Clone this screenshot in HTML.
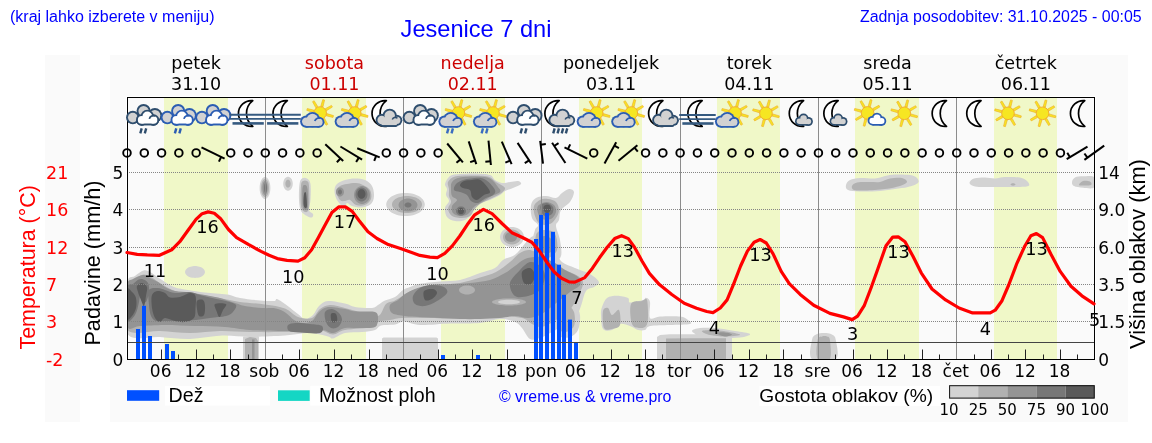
<!DOCTYPE html>
<html><head><meta charset="utf-8"><title>Jesenice 7 dni</title>
<style>html,body{margin:0;padding:0;background:#fff;}svg{display:block;}</style></head>
<body><svg width="1152" height="443" viewBox="0 0 1152 443">
<defs><clipPath id="plotclip"><rect x="127.0" y="97" width="968.0" height="262"/></clipPath></defs>
<rect x="45" y="55" width="35" height="367" fill="#fafafa"/>
<rect x="110" y="55" width="1018" height="367" fill="#fafafa"/>
<text x="10" y="21.6" font-family="'Liberation Sans', sans-serif" font-size="16" fill="#0000ff">(kraj lahko izberete v meniju)</text>
<text x="400.6" y="37" font-family="'Liberation Sans', sans-serif" font-size="23.6" fill="#0000ff">Jesenice 7 dni</text>
<text x="1141.7" y="22" text-anchor="end" font-family="'Liberation Sans', sans-serif" font-size="15.95" fill="#0000ff">Zadnja posodobitev: 31.10.2025 - 00:05</text>
<text x="196.14" y="69.2" text-anchor="middle" font-family="'DejaVu Sans', 'Liberation Sans', sans-serif" font-size="17.5" fill="#000">petek</text>
<text x="196.14" y="90" text-anchor="middle" font-family="'DejaVu Sans', 'Liberation Sans', sans-serif" font-size="17.5" fill="#000">31.10</text>
<text x="334.43" y="69.2" text-anchor="middle" font-family="'DejaVu Sans', 'Liberation Sans', sans-serif" font-size="17.5" fill="#cc0000">sobota</text>
<text x="334.43" y="90" text-anchor="middle" font-family="'DejaVu Sans', 'Liberation Sans', sans-serif" font-size="17.5" fill="#cc0000">01.11</text>
<text x="472.71" y="69.2" text-anchor="middle" font-family="'DejaVu Sans', 'Liberation Sans', sans-serif" font-size="17.5" fill="#cc0000">nedelja</text>
<text x="472.71" y="90" text-anchor="middle" font-family="'DejaVu Sans', 'Liberation Sans', sans-serif" font-size="17.5" fill="#cc0000">02.11</text>
<text x="611" y="69.2" text-anchor="middle" font-family="'DejaVu Sans', 'Liberation Sans', sans-serif" font-size="17.5" fill="#000">ponedeljek</text>
<text x="611" y="90" text-anchor="middle" font-family="'DejaVu Sans', 'Liberation Sans', sans-serif" font-size="17.5" fill="#000">03.11</text>
<text x="749.29" y="69.2" text-anchor="middle" font-family="'DejaVu Sans', 'Liberation Sans', sans-serif" font-size="17.5" fill="#000">torek</text>
<text x="749.29" y="90" text-anchor="middle" font-family="'DejaVu Sans', 'Liberation Sans', sans-serif" font-size="17.5" fill="#000">04.11</text>
<text x="887.57" y="69.2" text-anchor="middle" font-family="'DejaVu Sans', 'Liberation Sans', sans-serif" font-size="17.5" fill="#000">sreda</text>
<text x="887.57" y="90" text-anchor="middle" font-family="'DejaVu Sans', 'Liberation Sans', sans-serif" font-size="17.5" fill="#000">05.11</text>
<text x="1025.86" y="69.2" text-anchor="middle" font-family="'DejaVu Sans', 'Liberation Sans', sans-serif" font-size="17.5" fill="#000">četrtek</text>
<text x="1025.86" y="90" text-anchor="middle" font-family="'DejaVu Sans', 'Liberation Sans', sans-serif" font-size="17.5" fill="#000">06.11</text>
<rect x="127.0" y="97" width="968.0" height="262" fill="#fafafa"/>
<rect x="164" y="97" width="64" height="262" fill="#f0f8c8"/>
<rect x="302" y="97" width="64" height="262" fill="#f0f8c8"/>
<rect x="441" y="97" width="64" height="262" fill="#f0f8c8"/>
<rect x="579" y="97" width="63" height="262" fill="#f0f8c8"/>
<rect x="717" y="97" width="63" height="262" fill="#f0f8c8"/>
<rect x="855" y="97" width="64" height="262" fill="#f0f8c8"/>
<rect x="994" y="97" width="63" height="262" fill="#f0f8c8"/>
<g clip-path="url(#plotclip)">
<path d="M127,284C128.33,274.42 132.23,278.27 135,276C137.77,273.73 141.1,271.07 143.6,270.4C146.1,269.73 147.27,270.62 150,272C152.73,273.38 156,276.2 160,278.7C164,281.2 169.33,285.12 174,287C178.67,288.88 182.83,289.08 188,290C193.17,290.92 198.5,291.75 205,292.5C211.5,293.25 221.17,293.58 227,294.5C232.83,295.42 234.5,297 240,298C245.5,299 254.33,300 260,300.5C265.67,301 271.17,301.25 274,301C276.83,300.75 275.17,298.5 277,299C278.83,299.5 281.5,301.5 285,304C288.5,306.5 294.67,311.5 298,314C301.33,316.5 302.5,318.83 305,319C307.5,319.17 310.67,317.17 313,315C315.33,312.83 316.5,308.33 319,306C321.5,303.67 323.67,301.4 328,301C332.33,300.6 340.5,302.6 345,303.6C349.5,304.6 350.5,306.27 355,307C359.5,307.73 368.17,308.33 372,308C375.83,307.67 375.83,306.25 378,305C380.17,303.75 382.17,301.83 385,300.5C387.83,299.17 392,298.75 395,297C398,295.25 400.5,291.67 403,290C405.5,288.33 407.17,288.03 410,287C412.83,285.97 415,284.72 420,283.8C425,282.88 433.33,282.13 440,281.5C446.67,280.87 453.33,281.42 460,280C466.67,278.58 474.17,275 480,273C485.83,271 491.17,270.17 495,268C498.83,265.83 499.67,262.22 503,260C506.33,257.78 511.67,257.03 515,254.7C518.33,252.37 520.5,248.78 523,246C525.5,243.22 527.5,239.83 530,238C532.5,236.17 535,234.67 538,235C541,235.33 545,237.17 548,240C551,242.83 553.67,248.33 556,252C558.33,255.67 558.83,259.33 562,262C565.17,264.67 570.33,266 575,268C579.67,270 586,271.67 590,274C594,276.33 598.33,279.83 599,282C599.67,284.17 596.17,285.5 594,287C591.83,288.5 588.17,287.83 586,291C583.83,294.17 582.67,301.83 581,306C579.33,310.17 578.67,313 576,316C573.33,319 569,321.33 565,324C561,326.67 556.17,329.67 552,332C547.83,334.33 543.67,336.83 540,338C536.33,339.17 533,340.67 530,339C527,337.33 524.5,330.83 522,328C519.5,325.17 518.67,323.5 515,322C511.33,320.5 505.83,318.83 500,319C494.17,319.17 488.33,322.25 480,323C471.67,323.75 460,323.17 450,323.5C440,323.83 427.67,325.33 420,325C412.33,324.67 408.17,321.58 404,321.5C399.83,321.42 398.83,323.83 395,324.5C391.17,325.17 384.33,324.58 381,325.5C377.67,326.42 378.17,328.92 375,330C371.83,331.08 367,331.5 362,332C357,332.5 349.83,331.92 345,333C340.17,334.08 335.83,337.92 333,338.5C330.17,339.08 331.83,337.42 328,336.5C324.17,335.58 317.17,333.17 310,333C302.83,332.83 295,334.87 285,335.5C275,336.13 260.5,336.78 250,336.8C239.5,336.82 232,335.23 222,335.6C212,335.97 200.33,338.77 190,339C179.67,339.23 170.5,337.92 160,337C149.5,336.08 132.5,342.33 127,333.5C121.5,324.67 125.67,293.58 127,284Z M243,359 L243,337 L247,333 L255,333 L259,337 L259,359Z M382,359 L382,338.5 L383.5,337.5 L436.5,337.5 L438,338.5 L438,359Z M657,337 L660,335 L670,334.2 L700,334.2 L728,334.2 L732,336 L732,359 L657,359Z M811.9,359C807.93,355.83 811.32,344.08 812,340C812.68,335.92 814,335.67 816,334.5C818,333.33 821.33,333 824,333C826.67,333 830.03,333.33 832,334.5C833.97,335.67 835.17,335.92 835.8,340C836.43,344.08 839.78,355.83 835.8,359C831.82,362.17 815.87,362.17 811.9,359Z M602,307C603,304.17 604.5,299.87 607,298C609.5,296.13 613.5,295.8 617,295.8C620.5,295.8 625.83,296.88 628,298C630.17,299.12 627.5,302.17 630,302.5C632.5,302.83 640.33,300.78 643,300C645.67,299.22 644.83,297.47 646,297.8C647.17,298.13 649.33,298.63 650,302C650.67,305.37 648.33,315.58 650,318C651.67,320.42 655,316.75 660,316.5C665,316.25 675.33,315.92 680,316.5C684.67,317.08 686.33,318.75 688,320C689.67,321.25 693,323.17 690,324C687,324.83 676.67,324.67 670,325C663.33,325.33 654.17,325.17 650,326C645.83,326.83 647,329.33 645,330C643,330.67 640.5,330.67 638,330C635.5,329.33 633,327 630,326C627,325 623,323.33 620,324C617,324.67 614.83,329.17 612,330C609.17,330.83 604.83,331.5 603,329C601.17,326.5 601.17,318.67 601,315C600.83,311.33 601,309.83 602,307Z M692,331C692,329.67 696.17,328.5 700,328C703.83,327.5 709.17,327.5 715,328C720.83,328.5 729.17,330 735,331C740.83,332 749.17,332.92 750,334C750.83,335.08 745.83,336.83 740,337.5C734.17,338.17 721.67,338.25 715,338C708.33,337.75 703.83,337.17 700,336C696.17,334.83 692,332.33 692,331Z M531,205C531.67,201.67 533.5,199.5 536,198C538.5,196.5 542.67,196 546,196C549.33,196 553.33,198.5 556,198C558.67,197.5 559.83,194.5 562,193C564.17,191.5 567,189.17 569,189C571,188.83 573.83,189.83 574,192C574.17,194.17 572.17,199 570,202C567.83,205 562.83,207 561,210C559.17,213 559.83,217.33 559,220C558.17,222.67 555.83,222.67 556,226C556.17,229.33 559.17,235 560,240C560.83,245 562.17,252.33 561,256C559.83,259.67 557.33,261 553,262C548.67,263 538.5,264.83 535,262C531.5,259.17 532,250.33 532,245C532,239.67 534,233.33 535,230C536,226.67 538.5,227 538,225C537.5,223 533.17,221.33 532,218C530.83,214.67 530.33,208.33 531,205Z M445,184C445.5,181.83 447.5,177.67 450,176C452.5,174.33 455.83,174.42 460,174C464.17,173.58 470,173.33 475,173.5C480,173.67 486.67,173.92 490,175C493.33,176.08 493,178.67 495,180C497,181.33 499.5,182.67 502,183C504.5,183.33 507.33,182.33 510,182C512.67,181.67 516.17,180.67 518,181C519.83,181.33 521.83,182.83 521,184C520.17,185.17 515.67,186.83 513,188C510.33,189.17 507.17,189.83 505,191C502.83,192.17 502.5,193.5 500,195C497.5,196.5 493.33,198.67 490,200C486.67,201.33 482.5,201.83 480,203C477.5,204.17 476.33,205.17 475,207C473.67,208.83 473.67,211.83 472,214C470.33,216.17 467.83,218.83 465,220C462.17,221.17 458,221.5 455,221C452,220.5 448.67,219.17 447,217C445.33,214.83 444.67,210.67 445,208C445.33,205.33 448.83,203.17 449,201C449.17,198.83 446.33,197 446,195C445.67,193 447.17,190.83 447,189C446.83,187.17 444.5,186.17 445,184Z M524,237C524,238.45 523.56,240.04 522.81,241.34C522.06,242.64 520.84,243.92 519.48,244.82C518.12,245.72 516.36,246.43 514.67,246.75C512.98,247.07 511.02,247.07 509.33,246.75C507.64,246.43 505.88,245.72 504.52,244.82C503.16,243.92 501.94,242.64 501.19,241.34C500.44,240.04 500,238.45 500,237C500,235.55 500.44,233.96 501.19,232.66C501.94,231.36 503.16,230.08 504.52,229.18C505.88,228.28 507.64,227.57 509.33,227.25C511.02,226.93 512.98,226.93 514.67,227.25C516.36,227.57 518.12,228.28 519.48,229.18C520.84,230.08 522.06,231.36 522.81,232.66C523.56,233.96 524,235.55 524,237Z M270.4,188C270.4,189.59 270.2,191.34 269.87,192.77C269.53,194.21 268.98,195.61 268.37,196.6C267.76,197.59 266.96,198.37 266.2,198.72C265.44,199.08 264.56,199.08 263.8,198.72C263.04,198.37 262.24,197.59 261.63,196.6C261.02,195.61 260.47,194.21 260.13,192.77C259.8,191.34 259.6,189.59 259.6,188C259.6,186.41 259.8,184.66 260.13,183.23C260.47,181.79 261.02,180.39 261.63,179.4C262.24,178.41 263.04,177.63 263.8,177.28C264.56,176.92 265.44,176.92 266.2,177.28C266.96,177.63 267.76,178.41 268.37,179.4C268.98,180.39 269.53,181.79 269.87,183.23C270.2,184.66 270.4,186.41 270.4,188Z M292.8,183.7C292.8,184.71 292.63,185.83 292.32,186.74C292.02,187.65 291.54,188.54 290.99,189.17C290.45,189.8 289.74,190.3 289.07,190.52C288.39,190.75 287.61,190.75 286.93,190.52C286.26,190.3 285.55,189.8 285.01,189.17C284.46,188.54 283.98,187.65 283.68,186.74C283.37,185.83 283.2,184.71 283.2,183.7C283.2,182.69 283.37,181.57 283.68,180.66C283.98,179.75 284.46,178.86 285.01,178.23C285.55,177.6 286.26,177.1 286.93,176.88C287.61,176.65 288.39,176.65 289.07,176.88C289.74,177.1 290.45,177.6 290.99,178.23C291.54,178.86 292.02,179.75 292.32,180.66C292.63,181.57 292.8,182.69 292.8,183.7Z M299.5,184C300,180.42 300.75,179.42 302,178.5C303.25,177.58 305.58,177.58 307,178.5C308.42,179.42 309.92,180.42 310.5,184C311.08,187.58 310.75,195.67 310.5,200C310.25,204.33 308.58,207.67 309,210C309.42,212.33 312.5,212.75 313,214C313.5,215.25 313,217.17 312,217.5C311,217.83 308.83,217.08 307,216C305.17,214.92 302.33,213.67 301,211C299.67,208.33 299.25,204.5 299,200C298.75,195.5 299,187.58 299.5,184Z M334.5,190C334.67,187.67 335.25,185.67 337,184C338.75,182.33 342,180.92 345,180C348,179.08 351.67,178.5 355,178.5C358.33,178.5 362.17,178.75 365,180C367.83,181.25 370.5,183.33 372,186C373.5,188.67 374.17,193 374,196C373.83,199 373,202.08 371,204C369,205.92 365.17,207.17 362,207.5C358.83,207.83 354.5,206.75 352,206C349.5,205.25 348.33,202.67 347,203C345.67,203.33 345.17,207.83 344,208C342.83,208.17 341.33,205.67 340,204C338.67,202.33 336.92,200.33 336,198C335.08,195.67 334.33,192.33 334.5,190Z M424.8,204.5C424.8,206.18 424.1,208.02 422.89,209.53C421.68,211.04 419.72,212.52 417.53,213.57C415.35,214.62 412.52,215.44 409.79,215.81C407.07,216.18 403.93,216.18 401.21,215.81C398.48,215.44 395.65,214.62 393.47,213.57C391.28,212.52 389.32,211.04 388.11,209.53C386.9,208.02 386.2,206.18 386.2,204.5C386.2,202.82 386.9,200.98 388.11,199.47C389.32,197.96 391.28,196.48 393.47,195.43C395.65,194.38 398.48,193.56 401.21,193.19C403.93,192.82 407.07,192.82 409.79,193.19C412.52,193.56 415.35,194.38 417.53,195.43C419.72,196.48 421.68,197.96 422.89,199.47C424.1,200.98 424.8,202.82 424.8,204.5Z M846,185C846.33,183.33 847.67,181.17 850,180C852.33,178.83 855.83,178.25 860,178C864.17,177.75 870.83,178.83 875,178.5C879.17,178.17 881.67,176.67 885,176C888.33,175.33 890.83,174.67 895,174.5C899.17,174.33 906.33,174.42 910,175C913.67,175.58 915.67,176.67 917,178C918.33,179.33 919.5,181.5 918,183C916.5,184.5 911.83,186 908,187C904.17,188 899.67,188.33 895,189C890.33,189.67 885.83,190.58 880,191C874.17,191.42 865.33,191.67 860,191.5C854.67,191.33 850.33,191.08 848,190C845.67,188.92 845.67,186.67 846,185Z M969.5,183C969.33,181.67 971.42,179.42 974,178.5C976.58,177.58 981.5,177.5 985,177.5C988.5,177.5 991.67,178.58 995,178.5C998.33,178.42 1000.83,177.17 1005,177C1009.17,176.83 1016.33,176.83 1020,177.5C1023.67,178.17 1025.58,179.58 1027,181C1028.42,182.42 1030.5,185 1028.5,186C1026.5,187 1021.42,186.83 1015,187C1008.58,187.17 996.67,187.08 990,187C983.33,186.92 978.42,187.17 975,186.5C971.58,185.83 969.67,184.33 969.5,183Z M1072,182C1072.17,180.58 1073.17,178.45 1075,177.5C1076.83,176.55 1079.83,176.38 1083,176.3C1086.17,176.22 1092.17,175.13 1094,177C1095.83,178.87 1095.83,185.72 1094,187.5C1092.17,189.28 1086.33,187.95 1083,187.7C1079.67,187.45 1075.83,186.95 1074,186C1072.17,185.05 1071.83,183.42 1072,182Z M205,272C205,272.87 204.64,273.82 204.01,274.6C203.38,275.39 202.37,276.15 201.23,276.69C200.1,277.23 198.64,277.66 197.23,277.85C195.82,278.04 194.18,278.04 192.77,277.85C191.36,277.66 189.9,277.23 188.77,276.69C187.63,276.15 186.62,275.39 185.99,274.6C185.36,273.82 185,272.87 185,272C185,271.13 185.36,270.18 185.99,269.4C186.62,268.61 187.63,267.85 188.77,267.31C189.9,266.77 191.36,266.34 192.77,266.15C194.18,265.96 195.82,265.96 197.23,266.15C198.64,266.34 200.1,266.77 201.23,267.31C202.37,267.85 203.38,268.61 204.01,269.4C204.64,270.18 205,271.13 205,272Z M558,296C559.67,292.33 563.17,296.5 566,298C568.83,299.5 572.67,302.17 575,305C577.33,307.83 579.5,310.83 580,315C580.5,319.17 579.67,326.33 578,330C576.33,333.67 573,336 570,337C567,338 562.33,338.83 560,336C557.67,333.17 556.33,326.67 556,320C555.67,313.33 556.33,299.67 558,296Z" fill="#d3d3d3"/>
<path d="M127,287C128.5,278.58 133.23,281.08 136,279C138.77,276.92 140.93,274.75 143.6,274.5C146.27,274.25 149.27,276.08 152,277.5C154.73,278.92 156.17,280.75 160,283C163.83,285.25 170,289.25 175,291C180,292.75 185,292.75 190,293.5C195,294.25 200,294.75 205,295.5C210,296.25 214.17,296.92 220,298C225.83,299.08 232.5,300.92 240,302C247.5,303.08 257.5,303.42 265,304.5C272.5,305.58 279.5,306.42 285,308.5C290.5,310.58 293.5,315.42 298,317C302.5,318.58 308.33,319.33 312,318C315.67,316.67 317,311.17 320,309C323,306.83 325.83,305.17 330,305C334.17,304.83 340,306.83 345,308C350,309.17 354.5,310.67 360,312C365.5,313.33 373.67,317.33 378,316C382.33,314.67 383.17,306.58 386,304C388.83,301.42 391,302.58 395,300.5C399,298.42 406.17,293.42 410,291.5C413.83,289.58 413,290.08 418,289C423,287.92 433,286 440,285C447,284 453.33,284.25 460,283C466.67,281.75 474,279.33 480,277.5C486,275.67 491,274.58 496,272C501,269.42 506,265.17 510,262C514,258.83 516.67,255 520,253C523.33,251 526.67,249.67 530,250C533.33,250.33 536.33,253 540,255C543.67,257 547.83,259.5 552,262C556.17,264.5 560.67,267.67 565,270C569.33,272.33 575,273.67 578,276C581,278.33 583.33,280 583,284C582.67,288 578.5,295.33 576,300C573.5,304.67 571.33,308.67 568,312C564.67,315.33 560.33,317.5 556,320C551.67,322.5 546,326.33 542,327C538,327.67 535.33,325.5 532,324C528.67,322.5 527.33,319.33 522,318C516.67,316.67 507,315.92 500,316C493,316.08 488.33,318.08 480,318.5C471.67,318.92 460,318.58 450,318.5C440,318.42 428,318.08 420,318C412,317.92 407,317.67 402,318C397,318.33 394,319.33 390,320C386,320.67 380.67,320.83 378,322C375.33,323.17 379.5,325.67 374,327C368.5,328.33 351.83,328.75 345,330C338.17,331.25 337.17,334.5 333,334.5C328.83,334.5 325.5,330.58 320,330C314.5,329.42 305.83,330.67 300,331C294.17,331.33 293.33,331.83 285,332C276.67,332.17 260.83,332.17 250,332C239.17,331.83 230,330.83 220,331C210,331.17 200,333 190,333C180,333 170.5,331.58 160,331C149.5,330.42 132.5,336.83 127,329.5C121.5,322.17 125.5,295.42 127,287Z M245,359 L245,339 L250,337 L256,338 L258,341 L258,359Z M666,338.5 L690,338.3 L726,338.3 L726,359 L666,359Z M817.6,359C815.55,355.83 816.87,343.75 817.6,340C818.33,336.25 820.43,337.08 822,336.5C823.57,335.92 825.68,335.92 827,336.5C828.32,337.08 829.42,336.25 829.9,340C830.38,343.75 831.95,355.83 829.9,359C827.85,362.17 819.65,362.17 817.6,359Z M603,311C603.67,307.67 606.5,307.33 608,308C609.5,308.67 610.17,314.67 612,315C613.83,315.33 617.67,308.33 619,310C620.33,311.67 621.17,321.83 620,325C618.83,328.17 614.67,328.5 612,329C609.33,329.5 605.5,331 604,328C602.5,325 602.33,314.33 603,311Z M631,304C632.67,300.17 639.33,301.67 642,301C644.67,300.33 646,297.17 647,300C648,302.83 648.17,313.67 648,318C647.83,322.33 647.33,324.33 646,326C644.67,327.67 642.33,328.33 640,328C637.67,327.67 633.5,328 632,324C630.5,320 629.33,307.83 631,304Z M702,331C702.83,330.17 710,329.75 715,330C720,330.25 727.83,331.67 732,332.5C736.17,333.33 741.17,334.33 740,335C738.83,335.67 730,336.5 725,336.5C720,336.5 713.83,335.92 710,335C706.17,334.08 701.17,331.83 702,331Z M534,206C534.83,203.33 537.67,201.17 540,200C542.33,198.83 545.33,198.67 548,199C550.67,199.33 554.17,200.17 556,202C557.83,203.83 559,207.33 559,210C559,212.67 557.5,215.67 556,218C554.5,220.33 552.67,223 550,224C547.33,225 542.5,225.33 540,224C537.5,222.67 536,219 535,216C534,213 533.17,208.67 534,206Z M536,235C537.33,230.67 541.83,230.17 545,230C548.17,229.83 553,230.67 555,234C557,237.33 558.17,246 557,250C555.83,254 551.33,257 548,258C544.67,259 539,259.83 537,256C535,252.17 534.67,239.33 536,235Z M448,182C449,179.92 451.33,177.58 455,176.5C458.67,175.42 464.5,175.5 470,175.5C475.5,175.5 483.67,175.42 488,176.5C492.33,177.58 493.17,180.08 496,182C498.83,183.92 504.33,186 505,188C505.67,190 502.5,192.17 500,194C497.5,195.83 493.33,197.33 490,199C486.67,200.67 482.67,202.17 480,204C477.33,205.83 475.67,208 474,210C472.33,212 472,214.67 470,216C468,217.33 465,218 462,218C459,218 454.33,217.5 452,216C449.67,214.5 448.17,211.33 448,209C447.83,206.67 450.83,204.17 451,202C451.17,199.83 449.33,198.17 449,196C448.67,193.83 449.17,191.33 449,189C448.83,186.67 447,184.08 448,182Z M521,237C521,238.08 520.67,239.28 520.11,240.25C519.54,241.23 518.63,242.19 517.61,242.86C516.59,243.54 515.27,244.07 514,244.31C512.73,244.55 511.27,244.55 510,244.31C508.73,244.07 507.41,243.54 506.39,242.86C505.37,242.19 504.46,241.23 503.89,240.25C503.33,239.28 503,238.08 503,237C503,235.92 503.33,234.72 503.89,233.75C504.46,232.77 505.37,231.81 506.39,231.14C507.41,230.46 508.73,229.93 510,229.69C511.27,229.45 512.73,229.45 514,229.69C515.27,229.93 516.59,230.46 517.61,231.14C518.63,231.81 519.54,232.77 520.11,233.75C520.67,234.72 521,235.92 521,237Z M269,188C269,189.3 268.85,190.73 268.6,191.9C268.35,193.08 267.95,194.22 267.49,195.04C267.04,195.85 266.45,196.48 265.89,196.77C265.33,197.06 264.67,197.06 264.11,196.77C263.55,196.48 262.96,195.85 262.51,195.04C262.05,194.22 261.65,193.08 261.4,191.9C261.15,190.73 261,189.3 261,188C261,186.7 261.15,185.27 261.4,184.1C261.65,182.92 262.05,181.78 262.51,180.96C262.96,180.15 263.55,179.52 264.11,179.23C264.67,178.94 265.33,178.94 265.89,179.23C266.45,179.52 267.04,180.15 267.49,180.96C267.95,181.78 268.35,182.92 268.6,184.1C268.85,185.27 269,186.7 269,188Z M290.6,183.7C290.6,184.28 290.51,184.91 290.34,185.44C290.18,185.96 289.92,186.47 289.62,186.83C289.33,187.19 288.95,187.47 288.58,187.6C288.21,187.73 287.79,187.73 287.42,187.6C287.05,187.47 286.67,187.19 286.38,186.83C286.08,186.47 285.82,185.96 285.66,185.44C285.49,184.91 285.4,184.28 285.4,183.7C285.4,183.12 285.49,182.49 285.66,181.96C285.82,181.44 286.08,180.93 286.38,180.57C286.67,180.21 287.05,179.93 287.42,179.8C287.79,179.67 288.21,179.67 288.58,179.8C288.95,179.93 289.33,180.21 289.62,180.57C289.92,180.93 290.18,181.44 290.34,181.96C290.51,182.49 290.6,183.12 290.6,183.7Z M301,186C301.33,181.83 302,181.83 303,181C304,180.17 306,180.17 307,181C308,181.83 308.67,181.5 309,186C309.33,190.5 309.67,203.67 309,208C308.33,212.33 306.33,212.33 305,212C303.67,211.67 301.67,210.33 301,206C300.33,201.67 300.67,190.17 301,186Z M336,191C336,188.67 338.17,187.17 340,186C341.83,184.83 344.33,184.5 347,184C349.67,183.5 353.33,182.83 356,183C358.67,183.17 360.67,183.83 363,185C365.33,186.17 368.67,187.67 370,190C371.33,192.33 371.83,196.5 371,199C370.17,201.5 367.5,204 365,205C362.5,206 358.5,205.83 356,205C353.5,204.17 351.83,200.67 350,200C348.17,199.33 346.67,201 345,201C343.33,201 341.5,201.67 340,200C338.5,198.33 336,193.33 336,191Z M422,204.5C422,205.73 421.46,207.08 420.51,208.19C419.57,209.3 418.05,210.38 416.35,211.15C414.66,211.91 412.45,212.51 410.34,212.79C408.22,213.06 405.78,213.06 403.66,212.79C401.55,212.51 399.34,211.91 397.65,211.15C395.95,210.38 394.43,209.3 393.49,208.19C392.54,207.08 392,205.73 392,204.5C392,203.27 392.54,201.92 393.49,200.81C394.43,199.7 395.95,198.62 397.65,197.85C399.34,197.09 401.55,196.49 403.66,196.21C405.78,195.94 408.22,195.94 410.34,196.21C412.45,196.49 414.66,197.09 416.35,197.85C418.05,198.62 419.57,199.7 420.51,200.81C421.46,201.92 422,203.27 422,204.5Z M852,186C852.5,184.75 854,183.17 857,182.5C860,181.83 866.17,182.08 870,182C873.83,181.92 876.67,182.58 880,182C883.33,181.42 886.33,179.17 890,178.5C893.67,177.83 899.17,177.42 902,178C904.83,178.58 907.33,180.67 907,182C906.67,183.33 903.67,184.83 900,186C896.33,187.17 890.83,188.25 885,189C879.17,189.75 870.17,190.33 865,190.5C859.83,190.67 856.17,190.75 854,190C851.83,189.25 851.5,187.25 852,186Z M1015.5,184.5C1015.5,184.78 1015.18,185.15 1014.77,185.35C1014.35,185.55 1013.59,185.7 1013,185.7C1012.41,185.7 1011.65,185.55 1011.23,185.35C1010.82,185.15 1010.5,184.78 1010.5,184.5C1010.5,184.22 1010.82,183.85 1011.23,183.65C1011.65,183.45 1012.41,183.3 1013,183.3C1013.59,183.3 1014.35,183.45 1014.77,183.65C1015.18,183.85 1015.5,184.22 1015.5,184.5Z M1079,184.5C1079.17,183.75 1081.17,181.5 1083,181C1084.83,180.5 1088.67,180.83 1090,181.5C1091.33,182.17 1092.33,184.33 1091,185C1089.67,185.67 1084,185.58 1082,185.5C1080,185.42 1078.83,185.25 1079,184.5Z M560,302C561.17,298 564.67,302.33 567,304C569.33,305.67 572.83,308.33 574,312C575.17,315.67 575.33,322.67 574,326C572.67,329.33 568.33,331.67 566,332C563.67,332.33 561,333 560,328C559,323 558.83,306 560,302Z" fill="#b1b1b1"/>
<path d="M127,286C128,278.17 130.33,280.83 133,279C135.67,277.17 140.17,275.17 143,275C145.83,274.83 147.5,276.83 150,278C152.5,279.17 155.5,280.5 158,282C160.5,283.5 162.17,285.5 165,287C167.83,288.5 170.83,290.08 175,291C179.17,291.92 185,291.83 190,292.5C195,293.17 200,294.08 205,295C210,295.92 215.5,296.83 220,298C224.5,299.17 227.83,300.67 232,302C236.17,303.33 240,305 245,306C250,307 256.83,307.58 262,308C267.17,308.42 272,307.67 276,308.5C280,309.33 283,311.08 286,313C289,314.92 291.17,318.33 294,320C296.83,321.67 300,322.83 303,323C306,323.17 309.33,322.83 312,321C314.67,319.17 316.33,314.33 319,312C321.67,309.67 323.67,307.5 328,307C332.33,306.5 341,308.33 345,309C349,309.67 349.5,310.58 352,311C354.5,311.42 356.17,311.33 360,311.5C363.83,311.67 372,310.92 375,312C378,313.08 378,315.5 378,318C378,320.5 378,325.33 375,327C372,328.67 365,327.83 360,328C355,328.17 349.5,327.17 345,328C340.5,328.83 336.83,332.67 333,333C329.17,333.33 327.5,330.33 322,330C316.5,329.67 306.17,330.83 300,331C293.83,331.17 293.33,331.17 285,331C276.67,330.83 260,330.67 250,330C240,329.33 234.17,327.67 225,327C215.83,326.33 205,326.33 195,326C185,325.67 174.17,325 165,325C155.83,325 146.33,325.83 140,326C133.67,326.17 129.17,332.67 127,326C124.83,319.33 126,293.83 127,286Z M390,305C391,302.83 395.5,301.83 398,300C400.5,298.17 402.17,295.83 405,294C407.83,292.17 410.83,290.5 415,289C419.17,287.5 424.17,285.83 430,285C435.83,284.17 443.33,284.33 450,284C456.67,283.67 463.33,283.67 470,283C476.67,282.33 484.17,281.67 490,280C495.83,278.33 500.83,275.33 505,273C509.17,270.67 511.67,268.33 515,266C518.33,263.67 520.83,260.5 525,259C529.17,257.5 535,256.33 540,257C545,257.67 550.83,260.83 555,263C559.17,265.17 561.17,267.67 565,270C568.83,272.33 575.5,274.5 578,277C580.5,279.5 581.33,282.5 580,285C578.67,287.5 573.33,289.5 570,292C566.67,294.5 563.33,297.33 560,300C556.67,302.67 553.33,305.5 550,308C546.67,310.5 543.67,313.33 540,315C536.33,316.67 532.17,317.83 528,318C523.83,318.17 519.67,316 515,316C510.33,316 505.83,317.5 500,318C494.17,318.5 486.67,318.83 480,319C473.33,319.17 466.67,319.17 460,319C453.33,318.83 446.67,318.33 440,318C433.33,317.67 425.83,317.33 420,317C414.17,316.67 409.67,316.67 405,316C400.33,315.33 394.5,314.83 392,313C389.5,311.17 389,307.17 390,305Z M252,359 L252,339.5 L254.5,339.5 L254.5,359Z M716,333C716,332.33 722.33,332.25 725,332.5C727.67,332.75 732,333.83 732,334.5C732,335.17 727.67,336.75 725,336.5C722.33,336.25 716,333.67 716,333Z M538,206C539.33,204.17 543.33,202.17 546,202C548.67,201.83 552.33,203.33 554,205C555.67,206.67 556.5,209.67 556,212C555.5,214.33 553.33,217.83 551,219C548.67,220.17 544.17,220 542,219C539.83,218 538.67,215.17 538,213C537.33,210.83 536.67,207.83 538,206Z M538,240C538.67,237.33 543.5,235.67 546,236C548.5,236.33 552.17,239.33 553,242C553.83,244.67 552.83,250.33 551,252C549.17,253.67 544.17,254 542,252C539.83,250 537.33,242.67 538,240Z M452,182C453.5,180.08 455.67,178.42 460,177.5C464.33,176.58 473,176.33 478,176.5C483,176.67 486.67,176.75 490,178.5C493.33,180.25 496.33,184.75 498,187C499.67,189.25 501.33,190.33 500,192C498.67,193.67 493,195.33 490,197C487,198.67 484.67,200.33 482,202C479.33,203.67 476.33,205 474,207C471.67,209 470.33,212.5 468,214C465.67,215.5 462.5,216.17 460,216C457.5,215.83 454.33,214.67 453,213C451.67,211.33 451.33,208.17 452,206C452.67,203.83 457,201.67 457,200C457,198.33 453,197.83 452,196C451,194.17 451,191.33 451,189C451,186.67 450.5,183.92 452,182Z M517,237C517,237.72 516.78,238.52 516.41,239.17C516.03,239.82 515.42,240.46 514.74,240.91C514.06,241.36 513.18,241.71 512.34,241.87C511.49,242.04 510.51,242.04 509.66,241.87C508.82,241.71 507.94,241.36 507.26,240.91C506.58,240.46 505.97,239.82 505.59,239.17C505.22,238.52 505,237.72 505,237C505,236.28 505.22,235.48 505.59,234.83C505.97,234.18 506.58,233.54 507.26,233.09C507.94,232.64 508.82,232.29 509.66,232.13C510.51,231.96 511.49,231.96 512.34,232.13C513.18,232.29 514.06,232.64 514.74,233.09C515.42,233.54 516.03,234.18 516.41,234.83C516.78,235.48 517,236.28 517,237Z M267.6,188C267.6,189.01 267.51,190.13 267.34,191.04C267.18,191.95 266.92,192.84 266.62,193.47C266.33,194.1 265.95,194.6 265.58,194.82C265.21,195.05 264.79,195.05 264.42,194.82C264.05,194.6 263.67,194.1 263.38,193.47C263.08,192.84 262.82,191.95 262.66,191.04C262.49,190.13 262.4,189.01 262.4,188C262.4,186.99 262.49,185.87 262.66,184.96C262.82,184.05 263.08,183.16 263.38,182.53C263.67,181.9 264.05,181.4 264.42,181.18C264.79,180.95 265.21,180.95 265.58,181.18C265.95,181.4 266.33,181.9 266.62,182.53C266.92,183.16 267.18,184.05 267.34,184.96C267.51,185.87 267.6,186.99 267.6,188Z M302.5,188C302.92,184.67 304.17,184.83 305,185C305.83,185.17 307,185.33 307.5,189C308,192.67 308.42,203.5 308,207C307.58,210.5 305.92,210.33 305,210C304.08,209.67 302.92,208.67 302.5,205C302.08,201.33 302.08,191.33 302.5,188Z M344,192C344,192.65 343.85,193.37 343.6,193.95C343.35,194.54 342.95,195.11 342.49,195.52C342.04,195.92 341.45,196.24 340.89,196.39C340.33,196.53 339.67,196.53 339.11,196.39C338.55,196.24 337.96,195.92 337.51,195.52C337.05,195.11 336.65,194.54 336.4,193.95C336.15,193.37 336,192.65 336,192C336,191.35 336.15,190.63 336.4,190.05C336.65,189.46 337.05,188.89 337.51,188.48C337.96,188.08 338.55,187.76 339.11,187.61C339.67,187.47 340.33,187.47 340.89,187.61C341.45,187.76 342.04,188.08 342.49,188.48C342.95,188.89 343.35,189.46 343.6,190.05C343.85,190.63 344,191.35 344,192Z M370,195C370,196.3 369.71,197.73 369.21,198.9C368.71,200.08 367.89,201.22 366.99,202.04C366.08,202.85 364.91,203.48 363.78,203.77C362.65,204.06 361.35,204.06 360.22,203.77C359.09,203.48 357.92,202.85 357.01,202.04C356.11,201.22 355.29,200.08 354.79,198.9C354.29,197.73 354,196.3 354,195C354,193.7 354.29,192.27 354.79,191.1C355.29,189.92 356.11,188.78 357.01,187.96C357.92,187.15 359.09,186.52 360.22,186.23C361.35,185.94 362.65,185.94 363.78,186.23C364.91,186.52 366.08,187.15 366.99,187.96C367.89,188.78 368.71,189.92 369.21,191.1C369.71,192.27 370,193.7 370,195Z M417.5,205C417.5,205.94 417.16,206.97 416.56,207.82C415.96,208.67 415,209.5 413.92,210.08C412.85,210.67 411.45,211.13 410.11,211.34C408.77,211.55 407.23,211.55 405.89,211.34C404.55,211.13 403.15,210.67 402.08,210.08C401,209.5 400.04,208.67 399.44,207.82C398.84,206.97 398.5,205.94 398.5,205C398.5,204.06 398.84,203.03 399.44,202.18C400.04,201.33 401,200.5 402.08,199.92C403.15,199.33 404.55,198.87 405.89,198.66C407.23,198.45 408.77,198.45 410.11,198.66C411.45,198.87 412.85,199.33 413.92,199.92C415,200.5 415.96,201.33 416.56,202.18C417.16,203.03 417.5,204.06 417.5,205Z" fill="#949494"/>
<path d="M127,288C128,282 131.17,285.17 133,284C134.83,282.83 136.83,280 138,281C139.17,282 139.83,286.5 140,290C140.17,293.5 139.83,297.83 139,302C138.17,306.17 137,312 135,315C133,318 128.33,324.5 127,320C125.67,315.5 126,294 127,288Z M136,282C136.5,279.83 140,278.83 142,279C144,279.17 146.83,280.83 148,283C149.17,285.17 149.33,288.83 149,292C148.67,295.17 147.17,300.67 146,302C144.83,303.33 143.17,301.67 142,300C140.83,298.33 140,295 139,292C138,289 135.5,284.17 136,282Z M149,290C150.5,287.17 155.33,288 158,288C160.67,288 162.17,289.17 165,290C167.83,290.83 170.83,292.67 175,293C179.17,293.33 185.83,291.67 190,292C194.17,292.33 196.33,294 200,295C203.67,296 207.67,297 212,298C216.33,299 222,299.83 226,301C230,302.17 234.83,303.17 236,305C237.17,306.83 234.67,310.17 233,312C231.33,313.83 229.83,315 226,316C222.17,317 215,317.33 210,318C205,318.67 201,319.5 196,320C191,320.5 185.17,320.83 180,321C174.83,321.17 169,321 165,321C161,321 158.33,321.83 156,321C153.67,320.17 152.17,318.67 151,316C149.83,313.33 149.33,309.33 149,305C148.67,300.67 147.5,292.83 149,290Z M288,325C289.17,323.67 292.33,323.17 296,323C299.67,322.83 305.67,323.5 310,324C314.33,324.5 320.33,324.5 322,326C323.67,327.5 323.67,331.92 320,333C316.33,334.08 305.17,332.83 300,332.5C294.83,332.17 291,332.25 289,331C287,329.75 286.83,326.33 288,325Z M325,312C326,309.83 329.67,308.83 332,309C334.33,309.17 337.33,311.17 339,313C340.67,314.83 342.17,317.67 342,320C341.83,322.33 339.83,325.67 338,327C336.17,328.33 333,328.83 331,328C329,327.17 327,324.67 326,322C325,319.33 324,314.17 325,312Z M298,326C298.83,325 306.67,324.5 310,325C313.33,325.5 318.83,328 318,329C317.17,330 308.33,331.5 305,331C301.67,330.5 297.17,327 298,326Z M413,296C413.83,293.33 416.83,289.83 420,288C423.17,286.17 428,285.17 432,285C436,284.83 441.5,285.67 444,287C446.5,288.33 448.17,290.67 447,293C445.83,295.33 440.67,298.83 437,301C433.33,303.17 428.67,305.5 425,306C421.33,306.5 417,305.67 415,304C413,302.33 412.17,298.67 413,296Z M510,283C510.83,278.67 516.67,273.5 520,270C523.33,266.5 526.67,262.67 530,262C533.33,261.33 537.5,263.67 540,266C542.5,268.33 545,272 545,276C545,280 542.83,286.67 540,290C537.17,293.33 532.17,295 528,296C523.83,297 518,298.17 515,296C512,293.83 509.17,287.33 510,283Z M541,205C542,203.67 545,202.67 547,203C549,203.33 552.17,205.17 553,207C553.83,208.83 553.33,212.5 552,214C550.67,215.5 546.83,216.5 545,216C543.17,215.5 541.67,212.83 541,211C540.33,209.17 540,206.33 541,205Z M456,184C457.5,182.33 460.5,180.92 463,180C465.5,179.08 468,178.83 471,178.5C474,178.17 478.17,177.5 481,178C483.83,178.5 485.67,179.5 488,181.5C490.33,183.5 494.17,187.75 495,190C495.83,192.25 494.67,193.58 493,195C491.33,196.42 487.5,197.17 485,198.5C482.5,199.83 480.33,202.58 478,203C475.67,203.42 472.83,202.33 471,201C469.17,199.67 468.83,196.5 467,195C465.17,193.5 462.17,192.83 460,192C457.83,191.17 454.67,191.33 454,190C453.33,188.67 454.5,185.67 456,184Z M466,211C466,211.65 465.82,212.37 465.5,212.95C465.19,213.54 464.68,214.11 464.12,214.52C463.55,214.92 462.82,215.24 462.11,215.39C461.41,215.53 460.59,215.53 459.89,215.39C459.18,215.24 458.45,214.92 457.88,214.52C457.32,214.11 456.81,213.54 456.5,212.95C456.18,212.37 456,211.65 456,211C456,210.35 456.18,209.63 456.5,209.05C456.81,208.46 457.32,207.89 457.88,207.48C458.45,207.08 459.18,206.76 459.89,206.61C460.59,206.47 461.41,206.47 462.11,206.61C462.82,206.76 463.55,207.08 464.12,207.48C464.68,207.89 465.19,208.46 465.5,209.05C465.82,209.63 466,210.35 466,211Z M267,188C267,188.72 266.95,189.52 266.85,190.17C266.76,190.82 266.6,191.46 266.44,191.91C266.27,192.36 266.05,192.71 265.83,192.87C265.62,193.04 265.38,193.04 265.17,192.87C264.95,192.71 264.73,192.36 264.56,191.91C264.4,191.46 264.24,190.82 264.15,190.17C264.05,189.52 264,188.72 264,188C264,187.28 264.05,186.48 264.15,185.83C264.24,185.18 264.4,184.54 264.56,184.09C264.73,183.64 264.95,183.29 265.17,183.13C265.38,182.96 265.62,182.96 265.83,183.13C266.05,183.29 266.27,183.64 266.44,184.09C266.6,184.54 266.76,185.18 266.85,185.83C266.95,186.48 267,187.28 267,188Z M367.5,194.5C367.5,195.51 367.28,196.63 366.91,197.54C366.53,198.45 365.92,199.34 365.24,199.97C364.56,200.6 363.68,201.1 362.84,201.32C361.99,201.55 361.01,201.55 360.16,201.32C359.32,201.1 358.44,200.6 357.76,199.97C357.08,199.34 356.47,198.45 356.09,197.54C355.72,196.63 355.5,195.51 355.5,194.5C355.5,193.49 355.72,192.37 356.09,191.46C356.47,190.55 357.08,189.66 357.76,189.03C358.44,188.4 359.32,187.9 360.16,187.68C361.01,187.45 361.99,187.45 362.84,187.68C363.68,187.9 364.56,188.4 365.24,189.03C365.92,189.66 366.53,190.55 366.91,191.46C367.28,192.37 367.5,193.49 367.5,194.5Z M342,192C342,192.36 341.93,192.76 341.8,193.08C341.68,193.41 341.47,193.73 341.25,193.95C341.02,194.18 340.73,194.36 340.45,194.44C340.16,194.52 339.84,194.52 339.55,194.44C339.27,194.36 338.98,194.18 338.75,193.95C338.53,193.73 338.32,193.41 338.2,193.08C338.07,192.76 338,192.36 338,192C338,191.64 338.07,191.24 338.2,190.92C338.32,190.59 338.53,190.27 338.75,190.05C338.98,189.82 339.27,189.64 339.55,189.56C339.84,189.48 340.16,189.48 340.45,189.56C340.73,189.64 341.02,189.82 341.25,190.05C341.47,190.27 341.68,190.59 341.8,190.92C341.93,191.24 342,191.64 342,192Z M411.5,205C411.5,205.36 411.37,205.76 411.15,206.08C410.93,206.41 410.58,206.73 410.18,206.95C409.79,207.18 409.27,207.36 408.78,207.44C408.29,207.52 407.71,207.52 407.22,207.44C406.73,207.36 406.21,207.18 405.82,206.95C405.42,206.73 405.07,206.41 404.85,206.08C404.63,205.76 404.5,205.36 404.5,205C404.5,204.64 404.63,204.24 404.85,203.92C405.07,203.59 405.42,203.27 405.82,203.05C406.21,202.82 406.73,202.64 407.22,202.56C407.71,202.48 408.29,202.48 408.78,202.56C409.27,202.64 409.79,202.82 410.18,203.05C410.58,203.27 410.93,203.59 411.15,203.92C411.37,204.24 411.5,204.64 411.5,205Z" fill="#777777"/>
<path d="M127,290C127.83,285.67 130.5,290.67 132,292C133.5,293.33 135.33,295.33 136,298C136.67,300.67 136.67,305 136,308C135.33,311 133.5,314.33 132,316C130.5,317.67 127.83,322.33 127,318C126.17,313.67 126.17,294.33 127,290Z M137,286C137.67,284.5 140.33,282.83 142,283C143.67,283.17 146.33,284.83 147,287C147.67,289.17 146.5,292.83 146,296C145.5,299.17 144.83,305.33 144,306C143.17,306.67 142,302.33 141,300C140,297.67 138.67,294.33 138,292C137.33,289.67 136.33,287.5 137,286Z M152,295C153,292.17 155.83,291.33 158,291C160.17,290.67 163,291.92 165,293C167,294.08 167.5,296.83 170,297.5C172.5,298.17 176.67,297.75 180,297C183.33,296.25 187.42,293.17 190,293C192.58,292.83 194.58,293.5 195.5,296C196.42,298.5 195.75,304.33 195.5,308C195.25,311.67 195.75,315.67 194,318C192.25,320.33 188.17,321.5 185,322C181.83,322.5 178.33,321.67 175,321C171.67,320.33 167.5,317.83 165,318C162.5,318.17 161.67,322 160,322C158.33,322 156.33,320.33 155,318C153.67,315.67 152.5,311.83 152,308C151.5,304.17 151,297.83 152,295Z M197,301C198,299.5 201.67,299.17 203,300C204.33,300.83 204.83,303.5 205,306C205.17,308.5 205,313.33 204,315C203,316.67 200.17,317 199,316C197.83,315 197.33,311.5 197,309C196.67,306.5 196,302.5 197,301Z M215,304C216.58,302.83 224.67,303 226,304C227.33,305 224.08,307.83 223,310C221.92,312.17 220.58,316.83 219.5,317C218.42,317.17 217.25,313.17 216.5,311C215.75,308.83 213.42,305.17 215,304Z M331,314C331.67,312.67 335,312.83 336,314C337,315.17 337.67,319.67 337,321C336.33,322.33 333,323.17 332,322C331,320.83 330.33,315.33 331,314Z M424,291C425.33,289.17 430.83,288.67 433,289C435.17,289.33 437.17,291.33 437,293C436.83,294.67 434,297.83 432,299C430,300.17 426.33,301.33 425,300C423.67,298.67 422.67,292.83 424,291Z M522,272C523,269.5 527.83,267.5 530,268C532.17,268.5 534.83,272.33 535,275C535.17,277.67 532.83,282.67 531,284C529.17,285.33 525.5,285 524,283C522.5,281 521,274.5 522,272Z M544,206C544.83,205 547.83,204.5 549,205C550.17,205.5 551.17,207.67 551,209C550.83,210.33 549.17,212.67 548,213C546.83,213.33 544.67,212.17 544,211C543.33,209.83 543.17,207 544,206Z M464,181C466,180.17 469.5,180.25 472,180C474.5,179.75 477,179 479,179.5C481,180 482.17,180.92 484,183C485.83,185.08 490,190 490,192C490,194 486.17,193.67 484,195C481.83,196.33 479,199.67 477,200C475,200.33 473.17,198.67 472,197C470.83,195.33 471.5,191.5 470,190C468.5,188.5 464.67,188.83 463,188C461.33,187.17 459.83,186.17 460,185C460.17,183.83 462,181.83 464,181Z M464,211C464,211.46 463.89,211.97 463.7,212.39C463.51,212.81 463.21,213.21 462.87,213.5C462.53,213.79 462.09,214.02 461.67,214.12C461.24,214.22 460.76,214.22 460.33,214.12C459.91,214.02 459.47,213.79 459.13,213.5C458.79,213.21 458.49,212.81 458.3,212.39C458.11,211.97 458,211.46 458,211C458,210.54 458.11,210.03 458.3,209.61C458.49,209.19 458.79,208.79 459.13,208.5C459.47,208.21 459.91,207.98 460.33,207.88C460.76,207.78 461.24,207.78 461.67,207.88C462.09,207.98 462.53,208.21 462.87,208.5C463.21,208.79 463.51,209.19 463.7,209.61C463.89,210.03 464,210.54 464,211Z M304,194C304.42,192.17 305.5,191 306,193C306.5,195 307.17,203.5 307,206C306.83,208.5 305.58,208.33 305,208C304.42,207.67 303.67,206.33 303.5,204C303.33,201.67 303.58,195.83 304,194Z M365.5,194C365.5,194.69 365.35,195.46 365.1,196.08C364.85,196.71 364.45,197.32 363.99,197.75C363.54,198.19 362.95,198.53 362.39,198.68C361.83,198.83 361.17,198.83 360.61,198.68C360.05,198.53 359.46,198.19 359.01,197.75C358.55,197.32 358.15,196.71 357.9,196.08C357.65,195.46 357.5,194.69 357.5,194C357.5,193.31 357.65,192.54 357.9,191.92C358.15,191.29 358.55,190.68 359.01,190.25C359.46,189.81 360.05,189.47 360.61,189.32C361.17,189.17 361.83,189.17 362.39,189.32C362.95,189.47 363.54,189.81 363.99,190.25C364.45,190.68 364.85,191.29 365.1,191.92C365.35,192.54 365.5,193.31 365.5,194Z" fill="#5a5a5a"/>
<path d="M475,290C475,290.65 474.71,291.37 474.21,291.95C473.71,292.54 472.89,293.11 471.99,293.52C471.08,293.92 469.91,294.24 468.78,294.39C467.65,294.53 466.35,294.53 465.22,294.39C464.09,294.24 462.92,293.92 462.01,293.52C461.11,293.11 460.29,292.54 459.79,291.95C459.29,291.37 459,290.65 459,290C459,289.35 459.29,288.63 459.79,288.05C460.29,287.46 461.11,286.89 462.01,286.48C462.92,286.08 464.09,285.76 465.22,285.61C466.35,285.47 467.65,285.47 468.78,285.61C469.91,285.76 471.08,286.08 471.99,286.48C472.89,286.89 473.71,287.46 474.21,288.05C474.71,288.63 475,289.35 475,290Z" fill="#b1b1b1"/>
<path d="M526,302C526,302.52 525.38,303.09 524.32,303.56C523.25,304.03 521.52,304.49 519.6,304.81C517.68,305.14 515.18,305.39 512.78,305.51C510.39,305.63 507.61,305.63 505.22,305.51C502.82,305.39 500.32,305.14 498.4,304.81C496.48,304.49 494.75,304.03 493.68,303.56C492.62,303.09 492,302.52 492,302C492,301.48 492.62,300.91 493.68,300.44C494.75,299.97 496.48,299.51 498.4,299.19C500.32,298.86 502.82,298.61 505.22,298.49C507.61,298.37 510.39,298.37 512.78,298.49C515.18,298.61 517.68,298.86 519.6,299.19C521.52,299.51 523.25,299.97 524.32,300.44C525.38,300.91 526,301.48 526,302Z" fill="#b1b1b1"/>
<path d="M520,302C520,302.32 519.6,302.67 518.91,302.95C518.22,303.24 517.1,303.52 515.86,303.72C514.61,303.92 513,304.07 511.45,304.14C509.9,304.22 508.1,304.22 506.55,304.14C505,304.07 503.39,303.92 502.14,303.72C500.9,303.52 499.78,303.24 499.09,302.95C498.4,302.67 498,302.32 498,302C498,301.68 498.4,301.33 499.09,301.05C499.78,300.76 500.9,300.48 502.14,300.28C503.39,300.08 505,299.93 506.55,299.86C508.1,299.78 509.9,299.78 511.45,299.86C513,299.93 514.61,300.08 515.86,300.28C517.1,300.48 518.22,300.76 518.91,301.05C519.6,301.33 520,301.68 520,302Z" fill="#d3d3d3"/>
</g>
<line x1="127.0" y1="172.5" x2="1095.0" y2="172.5" stroke="#858585" stroke-width="1" stroke-dasharray="1 1"/>
<line x1="127.0" y1="209.5" x2="1095.0" y2="209.5" stroke="#858585" stroke-width="1" stroke-dasharray="1 1"/>
<line x1="127.0" y1="247.5" x2="1095.0" y2="247.5" stroke="#858585" stroke-width="1" stroke-dasharray="1 1"/>
<line x1="127.0" y1="284.5" x2="1095.0" y2="284.5" stroke="#858585" stroke-width="1" stroke-dasharray="1 1"/>
<line x1="127.0" y1="321.5" x2="1095.0" y2="321.5" stroke="#858585" stroke-width="1" stroke-dasharray="1 1"/>
<line x1="265.5" y1="97" x2="265.5" y2="359" stroke="#8c8c8c" stroke-width="1"/>
<line x1="403.5" y1="97" x2="403.5" y2="359" stroke="#8c8c8c" stroke-width="1"/>
<line x1="541.5" y1="97" x2="541.5" y2="359" stroke="#8c8c8c" stroke-width="1"/>
<line x1="680.5" y1="97" x2="680.5" y2="359" stroke="#8c8c8c" stroke-width="1"/>
<line x1="818.5" y1="97" x2="818.5" y2="359" stroke="#8c8c8c" stroke-width="1"/>
<line x1="956.5" y1="97" x2="956.5" y2="359" stroke="#8c8c8c" stroke-width="1"/>
<line x1="144.5" y1="354.5" x2="144.5" y2="359" stroke="#222" stroke-width="1"/>
<line x1="161.5" y1="349.5" x2="161.5" y2="359" stroke="#222" stroke-width="1"/>
<line x1="178.5" y1="354.5" x2="178.5" y2="359" stroke="#222" stroke-width="1"/>
<line x1="196.5" y1="349.5" x2="196.5" y2="359" stroke="#222" stroke-width="1"/>
<line x1="213.5" y1="354.5" x2="213.5" y2="359" stroke="#222" stroke-width="1"/>
<line x1="230.5" y1="349.5" x2="230.5" y2="359" stroke="#222" stroke-width="1"/>
<line x1="248.5" y1="354.5" x2="248.5" y2="359" stroke="#222" stroke-width="1"/>
<line x1="282.5" y1="354.5" x2="282.5" y2="359" stroke="#222" stroke-width="1"/>
<line x1="299.5" y1="349.5" x2="299.5" y2="359" stroke="#222" stroke-width="1"/>
<line x1="317.5" y1="354.5" x2="317.5" y2="359" stroke="#222" stroke-width="1"/>
<line x1="334.5" y1="349.5" x2="334.5" y2="359" stroke="#222" stroke-width="1"/>
<line x1="351.5" y1="354.5" x2="351.5" y2="359" stroke="#222" stroke-width="1"/>
<line x1="369.5" y1="349.5" x2="369.5" y2="359" stroke="#222" stroke-width="1"/>
<line x1="386.5" y1="354.5" x2="386.5" y2="359" stroke="#222" stroke-width="1"/>
<line x1="420.5" y1="354.5" x2="420.5" y2="359" stroke="#222" stroke-width="1"/>
<line x1="438.5" y1="349.5" x2="438.5" y2="359" stroke="#222" stroke-width="1"/>
<line x1="455.5" y1="354.5" x2="455.5" y2="359" stroke="#222" stroke-width="1"/>
<line x1="472.5" y1="349.5" x2="472.5" y2="359" stroke="#222" stroke-width="1"/>
<line x1="490.5" y1="354.5" x2="490.5" y2="359" stroke="#222" stroke-width="1"/>
<line x1="507.5" y1="349.5" x2="507.5" y2="359" stroke="#222" stroke-width="1"/>
<line x1="524.5" y1="354.5" x2="524.5" y2="359" stroke="#222" stroke-width="1"/>
<line x1="559.5" y1="354.5" x2="559.5" y2="359" stroke="#222" stroke-width="1"/>
<line x1="576.5" y1="349.5" x2="576.5" y2="359" stroke="#222" stroke-width="1"/>
<line x1="593.5" y1="354.5" x2="593.5" y2="359" stroke="#222" stroke-width="1"/>
<line x1="611.5" y1="349.5" x2="611.5" y2="359" stroke="#222" stroke-width="1"/>
<line x1="628.5" y1="354.5" x2="628.5" y2="359" stroke="#222" stroke-width="1"/>
<line x1="645.5" y1="349.5" x2="645.5" y2="359" stroke="#222" stroke-width="1"/>
<line x1="662.5" y1="354.5" x2="662.5" y2="359" stroke="#222" stroke-width="1"/>
<line x1="697.5" y1="354.5" x2="697.5" y2="359" stroke="#222" stroke-width="1"/>
<line x1="714.5" y1="349.5" x2="714.5" y2="359" stroke="#222" stroke-width="1"/>
<line x1="732.5" y1="354.5" x2="732.5" y2="359" stroke="#222" stroke-width="1"/>
<line x1="749.5" y1="349.5" x2="749.5" y2="359" stroke="#222" stroke-width="1"/>
<line x1="766.5" y1="354.5" x2="766.5" y2="359" stroke="#222" stroke-width="1"/>
<line x1="783.5" y1="349.5" x2="783.5" y2="359" stroke="#222" stroke-width="1"/>
<line x1="801.5" y1="354.5" x2="801.5" y2="359" stroke="#222" stroke-width="1"/>
<line x1="835.5" y1="354.5" x2="835.5" y2="359" stroke="#222" stroke-width="1"/>
<line x1="853.5" y1="349.5" x2="853.5" y2="359" stroke="#222" stroke-width="1"/>
<line x1="870.5" y1="354.5" x2="870.5" y2="359" stroke="#222" stroke-width="1"/>
<line x1="887.5" y1="349.5" x2="887.5" y2="359" stroke="#222" stroke-width="1"/>
<line x1="904.5" y1="354.5" x2="904.5" y2="359" stroke="#222" stroke-width="1"/>
<line x1="922.5" y1="349.5" x2="922.5" y2="359" stroke="#222" stroke-width="1"/>
<line x1="939.5" y1="354.5" x2="939.5" y2="359" stroke="#222" stroke-width="1"/>
<line x1="974.5" y1="354.5" x2="974.5" y2="359" stroke="#222" stroke-width="1"/>
<line x1="991.5" y1="349.5" x2="991.5" y2="359" stroke="#222" stroke-width="1"/>
<line x1="1008.5" y1="354.5" x2="1008.5" y2="359" stroke="#222" stroke-width="1"/>
<line x1="1025.5" y1="349.5" x2="1025.5" y2="359" stroke="#222" stroke-width="1"/>
<line x1="1043.5" y1="354.5" x2="1043.5" y2="359" stroke="#222" stroke-width="1"/>
<line x1="1060.5" y1="349.5" x2="1060.5" y2="359" stroke="#222" stroke-width="1"/>
<line x1="1077.5" y1="354.5" x2="1077.5" y2="359" stroke="#222" stroke-width="1"/>
<rect x="136" y="329" width="4" height="30" fill="#0050ff"/>
<rect x="142" y="305.8" width="4" height="53.2" fill="#0050ff"/>
<rect x="148" y="336" width="4" height="23" fill="#0050ff"/>
<rect x="165" y="344" width="4" height="15" fill="#0050ff"/>
<rect x="171" y="351" width="4" height="8" fill="#0050ff"/>
<rect x="441" y="355" width="4" height="4" fill="#0050ff"/>
<rect x="476" y="355" width="4" height="4" fill="#0050ff"/>
<rect x="534" y="239" width="4" height="120" fill="#0050ff"/>
<rect x="539" y="214.9" width="4" height="144.1" fill="#0050ff"/>
<rect x="545" y="212.9" width="4" height="146.1" fill="#0050ff"/>
<rect x="551" y="231.8" width="4" height="127.2" fill="#0050ff"/>
<rect x="557" y="264.7" width="4" height="94.3" fill="#0050ff"/>
<rect x="562" y="294.8" width="4" height="64.2" fill="#0050ff"/>
<rect x="568" y="319.6" width="4" height="39.4" fill="#0050ff"/>
<rect x="574" y="342.4" width="4" height="16.6" fill="#0050ff"/>
<line x1="127.0" y1="342.5" x2="1095.0" y2="342.5" stroke="#444" stroke-width="1"/>
<rect x="126.5" y="96.5" width="969" height="263" fill="none" stroke="#fff" stroke-width="1"/>
<rect x="127.5" y="97.5" width="967" height="262" fill="none" stroke="#000" stroke-width="1"/>
<polyline points="127,252.5 137.2,254.3 147.3,254.9 159.5,255.3 171.7,249.8 179.8,241.7 187.9,230.5 196,219.4 202.1,213.7 208.2,211.9 214.3,213.3 220.4,218.4 228.5,229.5 236.6,237.6 248.8,244.7 261,251.4 269.1,255.3 277.3,258.6 287,260.4 298,261.1 304.8,257.7 311.6,249.8 318.4,237.4 325.1,225 331.9,212.6 338.7,206.9 345.4,206.9 352.2,211.4 359,220.5 368,231.8 377,238.5 388.3,244.6 401.9,249.1 419.9,255.4 429.9,257.1 437.4,257.6 444.8,253.4 452.3,245.9 459.8,236 467.2,224.8 474.7,214.8 483.4,209.4 492,213.6 502,223.5 511.9,232.7 521.9,237.2 531.8,242.2 539.3,250.9 546.7,262 554.2,272 561.6,278.2 569.1,281.9 574.9,282.1 584.8,277.6 592.3,268.4 599.8,257.3 607.2,247.3 614.7,238.6 621.6,235.7 628.3,238.6 634.5,247.3 642,261 649.4,273.4 659.4,284.6 671.8,294.5 684.2,303.2 696.6,308.2 706.8,311.5 713,312.6 720.3,308 727.1,299.9 733.8,283.6 740.6,266 747.4,251.1 754.1,242.2 760.1,239.5 766.3,243 773.1,253.8 781.2,271.4 789.3,283.6 800.2,294.4 813.7,305.3 829.9,313.4 843.5,316.9 852.2,319.6 857.6,316.1 864.4,305.3 871.1,287.7 877.9,268.7 886,245.7 892.8,237.1 898.2,236.8 905,241.7 913.1,256.5 921.2,272.8 932,289 945.6,299.9 959.1,308 972.6,312.9 990.2,312.9 995.2,310.2 1002,300.7 1008.7,285 1016.9,263.3 1025,245.7 1030.9,235.7 1036.4,233.5 1042.6,237.6 1050.7,253.8 1060.2,271.4 1071,286.3 1081.9,295.8 1094,303.9" fill="none" stroke="#ff0000" stroke-width="3.2" stroke-linejoin="round" stroke-linecap="round"/>
<text x="155.1" y="276.7" text-anchor="middle" font-family="'DejaVu Sans', 'Liberation Sans', sans-serif" font-size="17.7" fill="#000">11</text>
<text x="207.5" y="233.2" text-anchor="middle" font-family="'DejaVu Sans', 'Liberation Sans', sans-serif" font-size="17.7" fill="#000">16</text>
<text x="293.2" y="282.9" text-anchor="middle" font-family="'DejaVu Sans', 'Liberation Sans', sans-serif" font-size="17.7" fill="#000">10</text>
<text x="345.1" y="227.9" text-anchor="middle" font-family="'DejaVu Sans', 'Liberation Sans', sans-serif" font-size="17.7" fill="#000">17</text>
<text x="437.6" y="280.2" text-anchor="middle" font-family="'DejaVu Sans', 'Liberation Sans', sans-serif" font-size="17.7" fill="#000">10</text>
<text x="483.7" y="230.7" text-anchor="middle" font-family="'DejaVu Sans', 'Liberation Sans', sans-serif" font-size="17.7" fill="#000">16</text>
<text x="576.8" y="304.2" text-anchor="middle" font-family="'DejaVu Sans', 'Liberation Sans', sans-serif" font-size="17.7" fill="#000">7</text>
<text x="622.7" y="257.4" text-anchor="middle" font-family="'DejaVu Sans', 'Liberation Sans', sans-serif" font-size="17.7" fill="#000">13</text>
<text x="714.5" y="334" text-anchor="middle" font-family="'DejaVu Sans', 'Liberation Sans', sans-serif" font-size="17.7" fill="#000">4</text>
<text x="760.5" y="260.9" text-anchor="middle" font-family="'DejaVu Sans', 'Liberation Sans', sans-serif" font-size="17.7" fill="#000">13</text>
<text x="852.6" y="340.4" text-anchor="middle" font-family="'DejaVu Sans', 'Liberation Sans', sans-serif" font-size="17.7" fill="#000">3</text>
<text x="898.6" y="258.2" text-anchor="middle" font-family="'DejaVu Sans', 'Liberation Sans', sans-serif" font-size="17.7" fill="#000">13</text>
<text x="985.5" y="335.4" text-anchor="middle" font-family="'DejaVu Sans', 'Liberation Sans', sans-serif" font-size="17.7" fill="#000">4</text>
<text x="1036.5" y="255.3" text-anchor="middle" font-family="'DejaVu Sans', 'Liberation Sans', sans-serif" font-size="17.7" fill="#000">13</text>
<text x="1094.7" y="325.7" text-anchor="middle" font-family="'DejaVu Sans', 'Liberation Sans', sans-serif" font-size="17.7" fill="#000">5</text>
<g>
<circle cx="132.79" cy="117.6" r="6.75" fill="#2e4d6d"/><circle cx="143.59" cy="111.1" r="7.05" fill="#2e4d6d"/><circle cx="154.89" cy="115.4" r="7.35" fill="#2e4d6d"/><circle cx="141.69" cy="119.9" r="5.75" fill="#2e4d6d"/><circle cx="147.29" cy="116.4" r="6.75" fill="#2e4d6d"/><circle cx="153.59" cy="120" r="5.65" fill="#2e4d6d"/><rect x="139.84" y="118.55" width="15.4" height="6.7" rx="2" fill="#2e4d6d"/><circle cx="132.79" cy="117.6" r="4.85" fill="#d2d2d2"/><circle cx="143.59" cy="111.1" r="5.15" fill="#d2d2d2"/><circle cx="154.89" cy="115.4" r="5.45" fill="#d2d2d2"/><circle cx="141.69" cy="119.9" r="5.75" fill="#2e4d6d"/><circle cx="147.29" cy="116.4" r="6.75" fill="#2e4d6d"/><circle cx="153.59" cy="120" r="5.65" fill="#2e4d6d"/><rect x="139.84" y="118.55" width="15.4" height="6.7" rx="1.9" fill="#2e4d6d"/><circle cx="141.69" cy="119.9" r="3.85" fill="#ffffff"/><circle cx="147.29" cy="116.4" r="4.85" fill="#ffffff"/><circle cx="153.59" cy="120" r="3.75" fill="#ffffff"/><rect x="141.74" y="120.45" width="11.6" height="2.9" fill="#ffffff"/><polygon points="141.69,119.9 147.29,116.4 153.59,120 153.59,123.35 141.69,123.35" fill="#ffffff"/><path d="M149.34,118.86 A4.4,4.4 0 0 1 155.09,115.87" fill="none" stroke="#2e4d6d" stroke-width="1.7"/>
<line x1="141.69" y1="128.4" x2="140.29" y2="133.4" stroke="#2e4d6d" stroke-width="2.4"/><line x1="146.19" y1="128.4" x2="144.79" y2="133.4" stroke="#2e4d6d" stroke-width="2.4"/>
<circle cx="167.36" cy="117.6" r="6.75" fill="#2b5db3"/><circle cx="178.16" cy="111.1" r="7.05" fill="#2b5db3"/><circle cx="189.46" cy="115.4" r="7.35" fill="#2b5db3"/><circle cx="176.26" cy="119.9" r="5.75" fill="#2b5db3"/><circle cx="181.86" cy="116.4" r="6.75" fill="#2b5db3"/><circle cx="188.16" cy="120" r="5.65" fill="#2b5db3"/><rect x="174.41" y="118.55" width="15.4" height="6.7" rx="2" fill="#2b5db3"/><circle cx="167.36" cy="117.6" r="4.85" fill="#d2d2d2"/><circle cx="178.16" cy="111.1" r="5.15" fill="#d2d2d2"/><circle cx="189.46" cy="115.4" r="5.45" fill="#d2d2d2"/><circle cx="176.26" cy="119.9" r="5.75" fill="#2b5db3"/><circle cx="181.86" cy="116.4" r="6.75" fill="#2b5db3"/><circle cx="188.16" cy="120" r="5.65" fill="#2b5db3"/><rect x="174.41" y="118.55" width="15.4" height="6.7" rx="1.9" fill="#2b5db3"/><circle cx="176.26" cy="119.9" r="3.85" fill="#ffffff"/><circle cx="181.86" cy="116.4" r="4.85" fill="#ffffff"/><circle cx="188.16" cy="120" r="3.75" fill="#ffffff"/><rect x="176.31" y="120.45" width="11.6" height="2.9" fill="#ffffff"/><polygon points="176.26,119.9 181.86,116.4 188.16,120 188.16,123.35 176.26,123.35" fill="#ffffff"/><path d="M183.91,118.86 A4.4,4.4 0 0 1 189.66,115.87" fill="none" stroke="#2b5db3" stroke-width="1.7"/>
<line x1="176.26" y1="128.4" x2="174.86" y2="133.4" stroke="#2b5db3" stroke-width="2.4"/><line x1="180.76" y1="128.4" x2="179.36" y2="133.4" stroke="#2b5db3" stroke-width="2.4"/>
<circle cx="201.93" cy="117.6" r="6.75" fill="#2b5db3"/><circle cx="212.73" cy="111.1" r="7.05" fill="#2b5db3"/><circle cx="224.03" cy="115.4" r="7.35" fill="#2b5db3"/><circle cx="210.83" cy="119.9" r="5.75" fill="#2b5db3"/><circle cx="216.43" cy="116.4" r="6.75" fill="#2b5db3"/><circle cx="222.73" cy="120" r="5.65" fill="#2b5db3"/><rect x="208.98" y="118.55" width="15.4" height="6.7" rx="2" fill="#2b5db3"/><circle cx="201.93" cy="117.6" r="4.85" fill="#d2d2d2"/><circle cx="212.73" cy="111.1" r="5.15" fill="#d2d2d2"/><circle cx="224.03" cy="115.4" r="5.45" fill="#d2d2d2"/><circle cx="210.83" cy="119.9" r="5.75" fill="#2b5db3"/><circle cx="216.43" cy="116.4" r="6.75" fill="#2b5db3"/><circle cx="222.73" cy="120" r="5.65" fill="#2b5db3"/><rect x="208.98" y="118.55" width="15.4" height="6.7" rx="1.9" fill="#2b5db3"/><circle cx="210.83" cy="119.9" r="3.85" fill="#ffffff"/><circle cx="216.43" cy="116.4" r="4.85" fill="#ffffff"/><circle cx="222.73" cy="120" r="3.75" fill="#ffffff"/><rect x="210.88" y="120.45" width="11.6" height="2.9" fill="#ffffff"/><polygon points="210.83,119.9 216.43,116.4 222.73,120 222.73,123.35 210.83,123.35" fill="#ffffff"/><path d="M218.48,118.86 A4.4,4.4 0 0 1 224.23,115.87" fill="none" stroke="#2b5db3" stroke-width="1.7"/>
<polygon points="326.22,115.82 333.03,117.44 333.53,115.6 326.82,113.6" fill="#f6e622" stroke="#f0a828" stroke-width="0.6" stroke-linejoin="round"/><polygon points="322.45,119.29 326.12,125.25 327.77,124.3 324.44,118.14" fill="#f6e622" stroke="#f0a828" stroke-width="0.6" stroke-linejoin="round"/><polygon points="317.32,119.08 315.71,125.89 317.54,126.38 319.55,119.67" fill="#f6e622" stroke="#f0a828" stroke-width="0.6" stroke-linejoin="round"/><polygon points="313.85,115.3 307.89,118.98 308.84,120.62 315,117.3" fill="#f6e622" stroke="#f0a828" stroke-width="0.6" stroke-linejoin="round"/><polygon points="314.07,110.18 307.25,108.56 306.76,110.4 313.47,112.4" fill="#f6e622" stroke="#f0a828" stroke-width="0.6" stroke-linejoin="round"/><polygon points="317.84,106.71 314.17,100.75 312.52,101.7 315.85,107.86" fill="#f6e622" stroke="#f0a828" stroke-width="0.6" stroke-linejoin="round"/><polygon points="322.96,106.92 324.58,100.11 322.75,99.62 320.74,106.33" fill="#f6e622" stroke="#f0a828" stroke-width="0.6" stroke-linejoin="round"/><polygon points="326.43,110.7 332.4,107.02 331.45,105.38 325.28,108.7" fill="#f6e622" stroke="#f0a828" stroke-width="0.6" stroke-linejoin="round"/><circle cx="320.14" cy="113" r="6.3" fill="#f6e622" stroke="#f0a828" stroke-width="0.9"/><circle cx="306.14" cy="121.6" r="6.05" fill="#2b5db3"/><circle cx="312.44" cy="119.6" r="7.65" fill="#2b5db3"/><circle cx="318.94" cy="122.2" r="5.55" fill="#2b5db3"/><rect x="305.19" y="120.95" width="14.7" height="6.9" rx="1.9" fill="#2b5db3"/><circle cx="306.14" cy="121.6" r="4.15" fill="#d2d2d2"/><circle cx="312.44" cy="119.6" r="5.75" fill="#d2d2d2"/><circle cx="318.94" cy="122.2" r="3.65" fill="#d2d2d2"/><rect x="307.09" y="122.85" width="10.9" height="3.1" fill="#d2d2d2"/><polygon points="306.14,121.6 312.44,119.6 318.94,122.2 318.94,125.95 306.14,125.95" fill="#d2d2d2"/><path d="M314.79,121.09 A4.3,4.3 0 0 1 320.41,118.16" fill="none" stroke="#2b5db3" stroke-width="1.7"/>
<polygon points="360.79,115.82 367.6,117.44 368.1,115.6 361.39,113.6" fill="#f6e622" stroke="#f0a828" stroke-width="0.6" stroke-linejoin="round"/><polygon points="357.02,119.29 360.69,125.25 362.34,124.3 359.01,118.14" fill="#f6e622" stroke="#f0a828" stroke-width="0.6" stroke-linejoin="round"/><polygon points="351.9,119.08 350.28,125.89 352.11,126.38 354.12,119.67" fill="#f6e622" stroke="#f0a828" stroke-width="0.6" stroke-linejoin="round"/><polygon points="348.42,115.3 342.46,118.98 343.41,120.62 349.57,117.3" fill="#f6e622" stroke="#f0a828" stroke-width="0.6" stroke-linejoin="round"/><polygon points="348.64,110.18 341.82,108.56 341.33,110.4 348.04,112.4" fill="#f6e622" stroke="#f0a828" stroke-width="0.6" stroke-linejoin="round"/><polygon points="352.41,106.71 348.74,100.75 347.09,101.7 350.42,107.86" fill="#f6e622" stroke="#f0a828" stroke-width="0.6" stroke-linejoin="round"/><polygon points="357.53,106.92 359.15,100.11 357.32,99.62 355.31,106.33" fill="#f6e622" stroke="#f0a828" stroke-width="0.6" stroke-linejoin="round"/><polygon points="361.01,110.7 366.97,107.02 366.02,105.38 359.86,108.7" fill="#f6e622" stroke="#f0a828" stroke-width="0.6" stroke-linejoin="round"/><circle cx="354.71" cy="113" r="6.3" fill="#f6e622" stroke="#f0a828" stroke-width="0.9"/><circle cx="340.71" cy="121.6" r="6.05" fill="#2b5db3"/><circle cx="347.01" cy="119.6" r="7.65" fill="#2b5db3"/><circle cx="353.51" cy="122.2" r="5.55" fill="#2b5db3"/><rect x="339.76" y="120.95" width="14.7" height="6.9" rx="1.9" fill="#2b5db3"/><circle cx="340.71" cy="121.6" r="4.15" fill="#d2d2d2"/><circle cx="347.01" cy="119.6" r="5.75" fill="#d2d2d2"/><circle cx="353.51" cy="122.2" r="3.65" fill="#d2d2d2"/><rect x="341.66" y="122.85" width="10.9" height="3.1" fill="#d2d2d2"/><polygon points="340.71,121.6 347.01,119.6 353.51,122.2 353.51,125.95 340.71,125.95" fill="#d2d2d2"/><path d="M349.36,121.09 A4.3,4.3 0 0 1 354.98,118.16" fill="none" stroke="#2b5db3" stroke-width="1.7"/>
<path d="M386.39,100.7 A12.93,12.93 0 1 0 386.39,126.4 A16.25,16.25 0 0 1 386.39,100.7Z" fill="#fff" stroke="#000" stroke-width="1.7" stroke-linejoin="round"/><circle cx="381.69" cy="120" r="6.15" fill="#2e4d6d"/><circle cx="389.69" cy="115.8" r="7.15" fill="#2e4d6d"/><circle cx="396.79" cy="120.3" r="5.55" fill="#2e4d6d"/><rect x="380.74" y="119.2" width="17" height="7.75" rx="1.9" fill="#2e4d6d"/><circle cx="381.69" cy="120" r="4.25" fill="#d2d2d2"/><circle cx="389.69" cy="115.8" r="5.25" fill="#d2d2d2"/><circle cx="396.79" cy="120.3" r="3.65" fill="#d2d2d2"/><rect x="382.64" y="121.1" width="13.2" height="3.95" fill="#d2d2d2"/><polygon points="381.69,120 389.69,115.8 396.79,120.3 396.79,125.05 381.69,125.05" fill="#d2d2d2"/><path d="M392.29,119.5 a3.3,3.3 0 0 1 5.2,-1.2" fill="none" stroke="#2e4d6d" stroke-width="1.5"/>
<circle cx="409.36" cy="117.6" r="6.75" fill="#2e4d6d"/><circle cx="420.16" cy="111.1" r="7.05" fill="#2e4d6d"/><circle cx="431.46" cy="115.4" r="7.35" fill="#2e4d6d"/><circle cx="418.26" cy="119.9" r="5.75" fill="#2e4d6d"/><circle cx="423.86" cy="116.4" r="6.75" fill="#2e4d6d"/><circle cx="430.16" cy="120" r="5.65" fill="#2e4d6d"/><rect x="416.41" y="118.55" width="15.4" height="6.7" rx="2" fill="#2e4d6d"/><circle cx="409.36" cy="117.6" r="4.85" fill="#d2d2d2"/><circle cx="420.16" cy="111.1" r="5.15" fill="#d2d2d2"/><circle cx="431.46" cy="115.4" r="5.45" fill="#d2d2d2"/><circle cx="418.26" cy="119.9" r="5.75" fill="#2e4d6d"/><circle cx="423.86" cy="116.4" r="6.75" fill="#2e4d6d"/><circle cx="430.16" cy="120" r="5.65" fill="#2e4d6d"/><rect x="416.41" y="118.55" width="15.4" height="6.7" rx="1.9" fill="#2e4d6d"/><circle cx="418.26" cy="119.9" r="3.85" fill="#ffffff"/><circle cx="423.86" cy="116.4" r="4.85" fill="#ffffff"/><circle cx="430.16" cy="120" r="3.75" fill="#ffffff"/><rect x="418.31" y="120.45" width="11.6" height="2.9" fill="#ffffff"/><polygon points="418.26,119.9 423.86,116.4 430.16,120 430.16,123.35 418.26,123.35" fill="#ffffff"/><path d="M425.91,118.86 A4.4,4.4 0 0 1 431.66,115.87" fill="none" stroke="#2e4d6d" stroke-width="1.7"/>
<polygon points="464.51,115.82 471.32,117.44 471.81,115.6 465.1,113.6" fill="#f6e622" stroke="#f0a828" stroke-width="0.6" stroke-linejoin="round"/><polygon points="460.73,119.29 464.41,125.25 466.05,124.3 462.72,118.14" fill="#f6e622" stroke="#f0a828" stroke-width="0.6" stroke-linejoin="round"/><polygon points="455.61,119.08 453.99,125.89 455.83,126.38 457.83,119.67" fill="#f6e622" stroke="#f0a828" stroke-width="0.6" stroke-linejoin="round"/><polygon points="452.14,115.3 446.18,118.98 447.13,120.62 453.29,117.3" fill="#f6e622" stroke="#f0a828" stroke-width="0.6" stroke-linejoin="round"/><polygon points="452.35,110.18 445.54,108.56 445.05,110.4 451.76,112.4" fill="#f6e622" stroke="#f0a828" stroke-width="0.6" stroke-linejoin="round"/><polygon points="456.12,106.71 452.45,100.75 450.81,101.7 454.13,107.86" fill="#f6e622" stroke="#f0a828" stroke-width="0.6" stroke-linejoin="round"/><polygon points="461.25,106.92 462.87,100.11 461.03,99.62 459.03,106.33" fill="#f6e622" stroke="#f0a828" stroke-width="0.6" stroke-linejoin="round"/><polygon points="464.72,110.7 470.68,107.02 469.73,105.38 463.57,108.7" fill="#f6e622" stroke="#f0a828" stroke-width="0.6" stroke-linejoin="round"/><circle cx="458.43" cy="113" r="6.3" fill="#f6e622" stroke="#f0a828" stroke-width="0.9"/><circle cx="444.43" cy="121.6" r="6.05" fill="#2b5db3"/><circle cx="450.73" cy="119.6" r="7.65" fill="#2b5db3"/><circle cx="457.23" cy="122.2" r="5.55" fill="#2b5db3"/><rect x="443.48" y="120.95" width="14.7" height="6.9" rx="1.9" fill="#2b5db3"/><circle cx="444.43" cy="121.6" r="4.15" fill="#d2d2d2"/><circle cx="450.73" cy="119.6" r="5.75" fill="#d2d2d2"/><circle cx="457.23" cy="122.2" r="3.65" fill="#d2d2d2"/><rect x="445.38" y="122.85" width="10.9" height="3.1" fill="#d2d2d2"/><polygon points="444.43,121.6 450.73,119.6 457.23,122.2 457.23,125.95 444.43,125.95" fill="#d2d2d2"/><path d="M453.08,121.09 A4.3,4.3 0 0 1 458.7,118.16" fill="none" stroke="#2b5db3" stroke-width="1.7"/>
<line x1="448.43" y1="128.4" x2="447.03" y2="133.4" stroke="#3a6cc0" stroke-width="2.4"/><line x1="452.93" y1="128.4" x2="451.53" y2="133.4" stroke="#3a6cc0" stroke-width="2.4"/>
<polygon points="499.08,115.82 505.89,117.44 506.38,115.6 499.67,113.6" fill="#f6e622" stroke="#f0a828" stroke-width="0.6" stroke-linejoin="round"/><polygon points="495.3,119.29 498.98,125.25 500.62,124.3 497.3,118.14" fill="#f6e622" stroke="#f0a828" stroke-width="0.6" stroke-linejoin="round"/><polygon points="490.18,119.08 488.56,125.89 490.4,126.38 492.4,119.67" fill="#f6e622" stroke="#f0a828" stroke-width="0.6" stroke-linejoin="round"/><polygon points="486.71,115.3 480.75,118.98 481.7,120.62 487.86,117.3" fill="#f6e622" stroke="#f0a828" stroke-width="0.6" stroke-linejoin="round"/><polygon points="486.92,110.18 480.11,108.56 479.62,110.4 486.33,112.4" fill="#f6e622" stroke="#f0a828" stroke-width="0.6" stroke-linejoin="round"/><polygon points="490.7,106.71 487.02,100.75 485.38,101.7 488.7,107.86" fill="#f6e622" stroke="#f0a828" stroke-width="0.6" stroke-linejoin="round"/><polygon points="495.82,106.92 497.44,100.11 495.6,99.62 493.6,106.33" fill="#f6e622" stroke="#f0a828" stroke-width="0.6" stroke-linejoin="round"/><polygon points="499.29,110.7 505.25,107.02 504.3,105.38 498.14,108.7" fill="#f6e622" stroke="#f0a828" stroke-width="0.6" stroke-linejoin="round"/><circle cx="493" cy="113" r="6.3" fill="#f6e622" stroke="#f0a828" stroke-width="0.9"/><circle cx="479" cy="121.6" r="6.05" fill="#2b5db3"/><circle cx="485.3" cy="119.6" r="7.65" fill="#2b5db3"/><circle cx="491.8" cy="122.2" r="5.55" fill="#2b5db3"/><rect x="478.05" y="120.95" width="14.7" height="6.9" rx="1.9" fill="#2b5db3"/><circle cx="479" cy="121.6" r="4.15" fill="#d2d2d2"/><circle cx="485.3" cy="119.6" r="5.75" fill="#d2d2d2"/><circle cx="491.8" cy="122.2" r="3.65" fill="#d2d2d2"/><rect x="479.95" y="122.85" width="10.9" height="3.1" fill="#d2d2d2"/><polygon points="479,121.6 485.3,119.6 491.8,122.2 491.8,125.95 479,125.95" fill="#d2d2d2"/><path d="M487.65,121.09 A4.3,4.3 0 0 1 493.27,118.16" fill="none" stroke="#2b5db3" stroke-width="1.7"/>
<line x1="483" y1="128.4" x2="481.6" y2="133.4" stroke="#3a6cc0" stroke-width="2.4"/><line x1="487.5" y1="128.4" x2="486.1" y2="133.4" stroke="#3a6cc0" stroke-width="2.4"/>
<circle cx="513.07" cy="117.6" r="6.75" fill="#2e4d6d"/><circle cx="523.87" cy="111.1" r="7.05" fill="#2e4d6d"/><circle cx="535.17" cy="115.4" r="7.35" fill="#2e4d6d"/><circle cx="521.97" cy="119.9" r="5.75" fill="#2e4d6d"/><circle cx="527.57" cy="116.4" r="6.75" fill="#2e4d6d"/><circle cx="533.87" cy="120" r="5.65" fill="#2e4d6d"/><rect x="520.12" y="118.55" width="15.4" height="6.7" rx="2" fill="#2e4d6d"/><circle cx="513.07" cy="117.6" r="4.85" fill="#d2d2d2"/><circle cx="523.87" cy="111.1" r="5.15" fill="#d2d2d2"/><circle cx="535.17" cy="115.4" r="5.45" fill="#d2d2d2"/><circle cx="521.97" cy="119.9" r="5.75" fill="#2e4d6d"/><circle cx="527.57" cy="116.4" r="6.75" fill="#2e4d6d"/><circle cx="533.87" cy="120" r="5.65" fill="#2e4d6d"/><rect x="520.12" y="118.55" width="15.4" height="6.7" rx="1.9" fill="#2e4d6d"/><circle cx="521.97" cy="119.9" r="3.85" fill="#ffffff"/><circle cx="527.57" cy="116.4" r="4.85" fill="#ffffff"/><circle cx="533.87" cy="120" r="3.75" fill="#ffffff"/><rect x="522.02" y="120.45" width="11.6" height="2.9" fill="#ffffff"/><polygon points="521.97,119.9 527.57,116.4 533.87,120 533.87,123.35 521.97,123.35" fill="#ffffff"/><path d="M529.62,118.86 A4.4,4.4 0 0 1 535.38,115.87" fill="none" stroke="#2e4d6d" stroke-width="1.7"/>
<line x1="521.97" y1="128.4" x2="520.57" y2="133.4" stroke="#2e4d6d" stroke-width="2.4"/><line x1="526.47" y1="128.4" x2="525.07" y2="133.4" stroke="#2e4d6d" stroke-width="2.4"/>
<path d="M559.24,100.7 A12.93,12.93 0 1 0 559.24,126.4 A16.25,16.25 0 0 1 559.24,100.7Z" fill="#fff" stroke="#000" stroke-width="1.7" stroke-linejoin="round"/><circle cx="554.54" cy="120" r="6.15" fill="#2e4d6d"/><circle cx="562.54" cy="115.8" r="7.15" fill="#2e4d6d"/><circle cx="569.64" cy="120.3" r="5.55" fill="#2e4d6d"/><rect x="553.59" y="119.2" width="17" height="7.75" rx="1.9" fill="#2e4d6d"/><circle cx="554.54" cy="120" r="4.25" fill="#d2d2d2"/><circle cx="562.54" cy="115.8" r="5.25" fill="#d2d2d2"/><circle cx="569.64" cy="120.3" r="3.65" fill="#d2d2d2"/><rect x="555.49" y="121.1" width="13.2" height="3.95" fill="#d2d2d2"/><polygon points="554.54,120 562.54,115.8 569.64,120.3 569.64,125.05 554.54,125.05" fill="#d2d2d2"/><path d="M565.14,119.5 a3.3,3.3 0 0 1 5.2,-1.2" fill="none" stroke="#2e4d6d" stroke-width="1.5"/>
<line x1="554.64" y1="128.4" x2="553.24" y2="133.4" stroke="#2e4d6d" stroke-width="2.4"/><line x1="558.94" y1="128.4" x2="557.54" y2="133.4" stroke="#2e4d6d" stroke-width="2.4"/><line x1="563.14" y1="128.4" x2="561.74" y2="133.4" stroke="#2e4d6d" stroke-width="2.4"/><line x1="567.24" y1="128.4" x2="565.84" y2="133.4" stroke="#2e4d6d" stroke-width="2.4"/>
<polygon points="602.79,115.82 609.6,117.44 610.1,115.6 603.39,113.6" fill="#f6e622" stroke="#f0a828" stroke-width="0.6" stroke-linejoin="round"/><polygon points="599.02,119.29 602.69,125.25 604.34,124.3 601.01,118.14" fill="#f6e622" stroke="#f0a828" stroke-width="0.6" stroke-linejoin="round"/><polygon points="593.9,119.08 592.28,125.89 594.11,126.38 596.12,119.67" fill="#f6e622" stroke="#f0a828" stroke-width="0.6" stroke-linejoin="round"/><polygon points="590.42,115.3 584.46,118.98 585.41,120.62 591.57,117.3" fill="#f6e622" stroke="#f0a828" stroke-width="0.6" stroke-linejoin="round"/><polygon points="590.64,110.18 583.82,108.56 583.33,110.4 590.04,112.4" fill="#f6e622" stroke="#f0a828" stroke-width="0.6" stroke-linejoin="round"/><polygon points="594.41,106.71 590.74,100.75 589.09,101.7 592.42,107.86" fill="#f6e622" stroke="#f0a828" stroke-width="0.6" stroke-linejoin="round"/><polygon points="599.53,106.92 601.15,100.11 599.32,99.62 597.31,106.33" fill="#f6e622" stroke="#f0a828" stroke-width="0.6" stroke-linejoin="round"/><polygon points="603.01,110.7 608.97,107.02 608.02,105.38 601.86,108.7" fill="#f6e622" stroke="#f0a828" stroke-width="0.6" stroke-linejoin="round"/><circle cx="596.71" cy="113" r="6.3" fill="#f6e622" stroke="#f0a828" stroke-width="0.9"/><circle cx="582.71" cy="121.6" r="6.05" fill="#2b5db3"/><circle cx="589.01" cy="119.6" r="7.65" fill="#2b5db3"/><circle cx="595.51" cy="122.2" r="5.55" fill="#2b5db3"/><rect x="581.76" y="120.95" width="14.7" height="6.9" rx="1.9" fill="#2b5db3"/><circle cx="582.71" cy="121.6" r="4.15" fill="#d2d2d2"/><circle cx="589.01" cy="119.6" r="5.75" fill="#d2d2d2"/><circle cx="595.51" cy="122.2" r="3.65" fill="#d2d2d2"/><rect x="583.66" y="122.85" width="10.9" height="3.1" fill="#d2d2d2"/><polygon points="582.71,121.6 589.01,119.6 595.51,122.2 595.51,125.95 582.71,125.95" fill="#d2d2d2"/><path d="M591.36,121.09 A4.3,4.3 0 0 1 596.98,118.16" fill="none" stroke="#2b5db3" stroke-width="1.7"/>
<polygon points="637.36,115.82 644.18,117.44 644.67,115.6 637.96,113.6" fill="#f6e622" stroke="#f0a828" stroke-width="0.6" stroke-linejoin="round"/><polygon points="633.59,119.29 637.26,125.25 638.91,124.3 635.58,118.14" fill="#f6e622" stroke="#f0a828" stroke-width="0.6" stroke-linejoin="round"/><polygon points="628.47,119.08 626.85,125.89 628.68,126.38 630.69,119.67" fill="#f6e622" stroke="#f0a828" stroke-width="0.6" stroke-linejoin="round"/><polygon points="624.99,115.3 619.03,118.98 619.98,120.62 626.14,117.3" fill="#f6e622" stroke="#f0a828" stroke-width="0.6" stroke-linejoin="round"/><polygon points="625.21,110.18 618.4,108.56 617.9,110.4 624.61,112.4" fill="#f6e622" stroke="#f0a828" stroke-width="0.6" stroke-linejoin="round"/><polygon points="628.98,106.71 625.31,100.75 623.66,101.7 626.99,107.86" fill="#f6e622" stroke="#f0a828" stroke-width="0.6" stroke-linejoin="round"/><polygon points="634.1,106.92 635.72,100.11 633.89,99.62 631.88,106.33" fill="#f6e622" stroke="#f0a828" stroke-width="0.6" stroke-linejoin="round"/><polygon points="637.58,110.7 643.54,107.02 642.59,105.38 636.43,108.7" fill="#f6e622" stroke="#f0a828" stroke-width="0.6" stroke-linejoin="round"/><circle cx="631.29" cy="113" r="6.3" fill="#f6e622" stroke="#f0a828" stroke-width="0.9"/><circle cx="617.29" cy="121.6" r="6.05" fill="#2b5db3"/><circle cx="623.59" cy="119.6" r="7.65" fill="#2b5db3"/><circle cx="630.09" cy="122.2" r="5.55" fill="#2b5db3"/><rect x="616.34" y="120.95" width="14.7" height="6.9" rx="1.9" fill="#2b5db3"/><circle cx="617.29" cy="121.6" r="4.15" fill="#d2d2d2"/><circle cx="623.59" cy="119.6" r="5.75" fill="#d2d2d2"/><circle cx="630.09" cy="122.2" r="3.65" fill="#d2d2d2"/><rect x="618.24" y="122.85" width="10.9" height="3.1" fill="#d2d2d2"/><polygon points="617.29,121.6 623.59,119.6 630.09,122.2 630.09,125.95 617.29,125.95" fill="#d2d2d2"/><path d="M625.93,121.09 A4.3,4.3 0 0 1 631.56,118.16" fill="none" stroke="#2b5db3" stroke-width="1.7"/>
<path d="M662.96,100.7 A12.93,12.93 0 1 0 662.96,126.4 A16.25,16.25 0 0 1 662.96,100.7Z" fill="#fff" stroke="#000" stroke-width="1.7" stroke-linejoin="round"/><circle cx="658.26" cy="120" r="6.15" fill="#2e4d6d"/><circle cx="666.26" cy="115.8" r="7.15" fill="#2e4d6d"/><circle cx="673.36" cy="120.3" r="5.55" fill="#2e4d6d"/><rect x="657.31" y="119.2" width="17" height="7.75" rx="1.9" fill="#2e4d6d"/><circle cx="658.26" cy="120" r="4.25" fill="#d2d2d2"/><circle cx="666.26" cy="115.8" r="5.25" fill="#d2d2d2"/><circle cx="673.36" cy="120.3" r="3.65" fill="#d2d2d2"/><rect x="659.21" y="121.1" width="13.2" height="3.95" fill="#d2d2d2"/><polygon points="658.26,120 666.26,115.8 673.36,120.3 673.36,125.05 658.26,125.05" fill="#d2d2d2"/><path d="M668.86,119.5 a3.3,3.3 0 0 1 5.2,-1.2" fill="none" stroke="#2e4d6d" stroke-width="1.5"/>
<polygon points="741.08,115.82 747.89,117.44 748.38,115.6 741.67,113.6" fill="#f6e622" stroke="#f0a828" stroke-width="0.6" stroke-linejoin="round"/><polygon points="737.3,119.29 740.98,125.25 742.62,124.3 739.3,118.14" fill="#f6e622" stroke="#f0a828" stroke-width="0.6" stroke-linejoin="round"/><polygon points="732.18,119.08 730.56,125.89 732.4,126.38 734.4,119.67" fill="#f6e622" stroke="#f0a828" stroke-width="0.6" stroke-linejoin="round"/><polygon points="728.71,115.3 722.75,118.98 723.7,120.62 729.86,117.3" fill="#f6e622" stroke="#f0a828" stroke-width="0.6" stroke-linejoin="round"/><polygon points="728.92,110.18 722.11,108.56 721.62,110.4 728.33,112.4" fill="#f6e622" stroke="#f0a828" stroke-width="0.6" stroke-linejoin="round"/><polygon points="732.7,106.71 729.02,100.75 727.38,101.7 730.7,107.86" fill="#f6e622" stroke="#f0a828" stroke-width="0.6" stroke-linejoin="round"/><polygon points="737.82,106.92 739.44,100.11 737.6,99.62 735.6,106.33" fill="#f6e622" stroke="#f0a828" stroke-width="0.6" stroke-linejoin="round"/><polygon points="741.29,110.7 747.25,107.02 746.3,105.38 740.14,108.7" fill="#f6e622" stroke="#f0a828" stroke-width="0.6" stroke-linejoin="round"/><circle cx="735" cy="113" r="6.3" fill="#f6e622" stroke="#f0a828" stroke-width="0.9"/><circle cx="721" cy="121.6" r="6.05" fill="#2b5db3"/><circle cx="727.3" cy="119.6" r="7.65" fill="#2b5db3"/><circle cx="733.8" cy="122.2" r="5.55" fill="#2b5db3"/><rect x="720.05" y="120.95" width="14.7" height="6.9" rx="1.9" fill="#2b5db3"/><circle cx="721" cy="121.6" r="4.15" fill="#d2d2d2"/><circle cx="727.3" cy="119.6" r="5.75" fill="#d2d2d2"/><circle cx="733.8" cy="122.2" r="3.65" fill="#d2d2d2"/><rect x="721.95" y="122.85" width="10.9" height="3.1" fill="#d2d2d2"/><polygon points="721,121.6 727.3,119.6 733.8,122.2 733.8,125.95 721,125.95" fill="#d2d2d2"/><path d="M729.65,121.09 A4.3,4.3 0 0 1 735.27,118.16" fill="none" stroke="#2b5db3" stroke-width="1.7"/>
<polygon points="772.05,116.12 778.86,117.74 779.35,115.9 772.64,113.9" fill="#f6e622" stroke="#f0a828" stroke-width="0.6" stroke-linejoin="round"/><polygon points="768.28,119.59 771.95,125.55 773.59,124.6 770.27,118.44" fill="#f6e622" stroke="#f0a828" stroke-width="0.6" stroke-linejoin="round"/><polygon points="763.15,119.38 761.53,126.19 763.37,126.68 765.37,119.97" fill="#f6e622" stroke="#f0a828" stroke-width="0.6" stroke-linejoin="round"/><polygon points="759.68,115.6 753.72,119.28 754.67,120.92 760.83,117.6" fill="#f6e622" stroke="#f0a828" stroke-width="0.6" stroke-linejoin="round"/><polygon points="759.89,110.48 753.08,108.86 752.59,110.7 759.3,112.7" fill="#f6e622" stroke="#f0a828" stroke-width="0.6" stroke-linejoin="round"/><polygon points="763.67,107.01 759.99,101.05 758.35,102 761.68,108.16" fill="#f6e622" stroke="#f0a828" stroke-width="0.6" stroke-linejoin="round"/><polygon points="768.79,107.22 770.41,100.41 768.57,99.92 766.57,106.63" fill="#f6e622" stroke="#f0a828" stroke-width="0.6" stroke-linejoin="round"/><polygon points="772.26,111 778.22,107.32 777.27,105.68 771.11,109" fill="#f6e622" stroke="#f0a828" stroke-width="0.6" stroke-linejoin="round"/><circle cx="765.97" cy="113.3" r="6.3" fill="#f6e622" stroke="#f0a828" stroke-width="0.9"/>
<path d="M803.64,100.7 A12.93,12.93 0 1 0 803.64,126.4 A16.25,16.25 0 0 1 803.64,100.7Z" fill="#fff" stroke="#000" stroke-width="1.7" stroke-linejoin="round"/><circle cx="799.44" cy="121.2" r="4.45" fill="#2e4d6d"/><circle cx="803.54" cy="118.4" r="4.95" fill="#2e4d6d"/><circle cx="808.44" cy="121.5" r="4.45" fill="#2e4d6d"/><rect x="798.59" y="120.5" width="10.7" height="5.25" rx="1.7" fill="#2e4d6d"/><circle cx="799.44" cy="121.2" r="2.75" fill="#d2d2d2"/><circle cx="803.54" cy="118.4" r="3.25" fill="#d2d2d2"/><circle cx="808.44" cy="121.5" r="2.75" fill="#d2d2d2"/><rect x="800.29" y="122.2" width="7.3" height="1.85" fill="#d2d2d2"/><polygon points="799.44,121.2 803.54,118.4 808.44,121.5 808.44,124.05 799.44,124.05" fill="#d2d2d2"/>
<path d="M838.21,100.7 A12.93,12.93 0 1 0 838.21,126.4 A16.25,16.25 0 0 1 838.21,100.7Z" fill="#fff" stroke="#000" stroke-width="1.7" stroke-linejoin="round"/><circle cx="834.01" cy="121.2" r="4.45" fill="#2e4d6d"/><circle cx="838.11" cy="118.4" r="4.95" fill="#2e4d6d"/><circle cx="843.01" cy="121.5" r="4.45" fill="#2e4d6d"/><rect x="833.16" y="120.5" width="10.7" height="5.25" rx="1.7" fill="#2e4d6d"/><circle cx="834.01" cy="121.2" r="2.75" fill="#d2d2d2"/><circle cx="838.11" cy="118.4" r="3.25" fill="#d2d2d2"/><circle cx="843.01" cy="121.5" r="2.75" fill="#d2d2d2"/><rect x="834.86" y="122.2" width="7.3" height="1.85" fill="#d2d2d2"/><polygon points="834.01,121.2 838.11,118.4 843.01,121.5 843.01,124.05 834.01,124.05" fill="#d2d2d2"/>
<polygon points="873.66,115.72 880.48,117.34 880.97,115.5 874.26,113.5" fill="#f6e622" stroke="#f0a828" stroke-width="0.6" stroke-linejoin="round"/><polygon points="869.89,119.19 873.56,125.15 875.21,124.2 871.88,118.04" fill="#f6e622" stroke="#f0a828" stroke-width="0.6" stroke-linejoin="round"/><polygon points="864.77,118.98 863.15,125.79 864.98,126.28 866.99,119.57" fill="#f6e622" stroke="#f0a828" stroke-width="0.6" stroke-linejoin="round"/><polygon points="861.29,115.2 855.33,118.88 856.28,120.52 862.44,117.2" fill="#f6e622" stroke="#f0a828" stroke-width="0.6" stroke-linejoin="round"/><polygon points="861.51,110.08 854.7,108.46 854.2,110.3 860.91,112.3" fill="#f6e622" stroke="#f0a828" stroke-width="0.6" stroke-linejoin="round"/><polygon points="865.28,106.61 861.61,100.65 859.96,101.6 863.29,107.76" fill="#f6e622" stroke="#f0a828" stroke-width="0.6" stroke-linejoin="round"/><polygon points="870.4,106.82 872.02,100.01 870.19,99.52 868.18,106.23" fill="#f6e622" stroke="#f0a828" stroke-width="0.6" stroke-linejoin="round"/><polygon points="873.88,110.6 879.84,106.92 878.89,105.28 872.73,108.6" fill="#f6e622" stroke="#f0a828" stroke-width="0.6" stroke-linejoin="round"/><circle cx="867.59" cy="112.9" r="6.3" fill="#f6e622" stroke="#f0a828" stroke-width="0.9"/><circle cx="872.39" cy="120.7" r="4.8" fill="#2b5db3"/><circle cx="876.99" cy="118.1" r="5.3" fill="#2b5db3"/><circle cx="881.49" cy="121.1" r="4.8" fill="#2b5db3"/><rect x="871.49" y="120" width="10.9" height="5.8" rx="1.8" fill="#2b5db3"/><circle cx="872.39" cy="120.7" r="3" fill="#ffffff"/><circle cx="876.99" cy="118.1" r="3.5" fill="#ffffff"/><circle cx="881.49" cy="121.1" r="3" fill="#ffffff"/><rect x="873.29" y="121.8" width="7.3" height="2.2" fill="#ffffff"/><polygon points="872.39,120.7 876.99,118.1 881.49,121.1 881.49,124 872.39,124" fill="#ffffff"/>
<polygon points="910.33,116.12 917.15,117.74 917.64,115.9 910.93,113.9" fill="#f6e622" stroke="#f0a828" stroke-width="0.6" stroke-linejoin="round"/><polygon points="906.56,119.59 910.23,125.55 911.88,124.6 908.55,118.44" fill="#f6e622" stroke="#f0a828" stroke-width="0.6" stroke-linejoin="round"/><polygon points="901.44,119.38 899.82,126.19 901.65,126.68 903.66,119.97" fill="#f6e622" stroke="#f0a828" stroke-width="0.6" stroke-linejoin="round"/><polygon points="897.97,115.6 892,119.28 892.95,120.92 899.12,117.6" fill="#f6e622" stroke="#f0a828" stroke-width="0.6" stroke-linejoin="round"/><polygon points="898.18,110.48 891.37,108.86 890.87,110.7 897.58,112.7" fill="#f6e622" stroke="#f0a828" stroke-width="0.6" stroke-linejoin="round"/><polygon points="901.95,107.01 898.28,101.05 896.63,102 899.96,108.16" fill="#f6e622" stroke="#f0a828" stroke-width="0.6" stroke-linejoin="round"/><polygon points="907.08,107.22 908.69,100.41 906.86,99.92 904.85,106.63" fill="#f6e622" stroke="#f0a828" stroke-width="0.6" stroke-linejoin="round"/><polygon points="910.55,111 916.51,107.32 915.56,105.68 909.4,109" fill="#f6e622" stroke="#f0a828" stroke-width="0.6" stroke-linejoin="round"/><circle cx="904.26" cy="113.3" r="6.3" fill="#f6e622" stroke="#f0a828" stroke-width="0.9"/>
<path d="M946.53,100.7 A12.93,12.93 0 1 0 946.53,126.4 A16.25,16.25 0 0 1 946.53,100.7Z" fill="#fff" stroke="#000" stroke-width="1.7" stroke-linejoin="round"/>
<path d="M981.1,100.7 A12.93,12.93 0 1 0 981.1,126.4 A16.25,16.25 0 0 1 981.1,100.7Z" fill="#fff" stroke="#000" stroke-width="1.7" stroke-linejoin="round"/>
<polygon points="1014.05,116.12 1020.86,117.74 1021.35,115.9 1014.64,113.9" fill="#f6e622" stroke="#f0a828" stroke-width="0.6" stroke-linejoin="round"/><polygon points="1010.28,119.59 1013.95,125.55 1015.59,124.6 1012.27,118.44" fill="#f6e622" stroke="#f0a828" stroke-width="0.6" stroke-linejoin="round"/><polygon points="1005.15,119.38 1003.53,126.19 1005.37,126.68 1007.37,119.97" fill="#f6e622" stroke="#f0a828" stroke-width="0.6" stroke-linejoin="round"/><polygon points="1001.68,115.6 995.72,119.28 996.67,120.92 1002.83,117.6" fill="#f6e622" stroke="#f0a828" stroke-width="0.6" stroke-linejoin="round"/><polygon points="1001.89,110.48 995.08,108.86 994.59,110.7 1001.3,112.7" fill="#f6e622" stroke="#f0a828" stroke-width="0.6" stroke-linejoin="round"/><polygon points="1005.67,107.01 1001.99,101.05 1000.35,102 1003.68,108.16" fill="#f6e622" stroke="#f0a828" stroke-width="0.6" stroke-linejoin="round"/><polygon points="1010.79,107.22 1012.41,100.41 1010.57,99.92 1008.57,106.63" fill="#f6e622" stroke="#f0a828" stroke-width="0.6" stroke-linejoin="round"/><polygon points="1014.26,111 1020.22,107.32 1019.27,105.68 1013.11,109" fill="#f6e622" stroke="#f0a828" stroke-width="0.6" stroke-linejoin="round"/><circle cx="1007.97" cy="113.3" r="6.3" fill="#f6e622" stroke="#f0a828" stroke-width="0.9"/>
<polygon points="1048.62,116.12 1055.43,117.74 1055.93,115.9 1049.22,113.9" fill="#f6e622" stroke="#f0a828" stroke-width="0.6" stroke-linejoin="round"/><polygon points="1044.85,119.59 1048.52,125.55 1050.17,124.6 1046.84,118.44" fill="#f6e622" stroke="#f0a828" stroke-width="0.6" stroke-linejoin="round"/><polygon points="1039.72,119.38 1038.11,126.19 1039.94,126.68 1041.95,119.97" fill="#f6e622" stroke="#f0a828" stroke-width="0.6" stroke-linejoin="round"/><polygon points="1036.25,115.6 1030.29,119.28 1031.24,120.92 1037.4,117.6" fill="#f6e622" stroke="#f0a828" stroke-width="0.6" stroke-linejoin="round"/><polygon points="1036.47,110.48 1029.65,108.86 1029.16,110.7 1035.87,112.7" fill="#f6e622" stroke="#f0a828" stroke-width="0.6" stroke-linejoin="round"/><polygon points="1040.24,107.01 1036.57,101.05 1034.92,102 1038.25,108.16" fill="#f6e622" stroke="#f0a828" stroke-width="0.6" stroke-linejoin="round"/><polygon points="1045.36,107.22 1046.98,100.41 1045.15,99.92 1043.14,106.63" fill="#f6e622" stroke="#f0a828" stroke-width="0.6" stroke-linejoin="round"/><polygon points="1048.83,111 1054.8,107.32 1053.85,105.68 1047.68,109" fill="#f6e622" stroke="#f0a828" stroke-width="0.6" stroke-linejoin="round"/><circle cx="1042.54" cy="113.3" r="6.3" fill="#f6e622" stroke="#f0a828" stroke-width="0.9"/>
<path d="M1084.81,100.7 A12.93,12.93 0 1 0 1084.81,126.4 A16.25,16.25 0 0 1 1084.81,100.7Z" fill="#fff" stroke="#000" stroke-width="1.7" stroke-linejoin="round"/>
<path d="M252.8,100.7 A12.93,12.93 0 1 0 252.8,126.4 A16.25,16.25 0 0 1 252.8,100.7Z" fill="#fff" stroke="#000" stroke-width="1.7" stroke-linejoin="round"/>
<path d="M287.37,100.7 A12.93,12.93 0 1 0 287.37,126.4 A16.25,16.25 0 0 1 287.37,100.7Z" fill="#fff" stroke="#000" stroke-width="1.7" stroke-linejoin="round"/>
<line x1="229.5" y1="114.8" x2="300.77" y2="114.8" stroke="#355a80" stroke-width="1.9"/>
<line x1="229.5" y1="118.9" x2="300.77" y2="118.9" stroke="#355a80" stroke-width="1.9"/>
<line x1="232.5" y1="123.4" x2="263.8" y2="123.4" stroke="#355a80" stroke-width="2.6"/>
<line x1="267.07" y1="123.4" x2="298.37" y2="123.4" stroke="#355a80" stroke-width="2.6"/>
<path d="M702.23,100.7 A12.93,12.93 0 1 0 702.23,126.4 A16.25,16.25 0 0 1 702.23,100.7Z" fill="#fff" stroke="#000" stroke-width="1.7" stroke-linejoin="round"/><line x1="679.23" y1="115" x2="715.73" y2="115" stroke="#355a80" stroke-width="1.9"/><line x1="679.23" y1="119.1" x2="715.73" y2="119.1" stroke="#355a80" stroke-width="1.9"/><line x1="682.33" y1="123.5" x2="713.53" y2="123.5" stroke="#355a80" stroke-width="2.6"/>
</g>
<g stroke="#000" fill="none" stroke-linecap="butt">
<circle cx="127" cy="152.9" r="3.8" stroke-width="1.9"/>
<circle cx="144.29" cy="152.9" r="3.8" stroke-width="1.9"/>
<circle cx="161.57" cy="152.9" r="3.8" stroke-width="1.9"/>
<circle cx="178.86" cy="152.9" r="3.8" stroke-width="1.9"/>
<circle cx="196.14" cy="152.9" r="3.8" stroke-width="1.9"/>
<line x1="201.5" y1="147.3" x2="224.6" y2="158.7" stroke-width="2"/>
<line x1="221.19" y1="157.02" x2="218.89" y2="161.68" stroke-width="2"/>
<circle cx="230.71" cy="152.9" r="3.8" stroke-width="1.9"/>
<circle cx="248" cy="152.9" r="3.8" stroke-width="1.9"/>
<circle cx="265.29" cy="152.9" r="3.8" stroke-width="1.9"/>
<circle cx="282.57" cy="152.9" r="3.8" stroke-width="1.9"/>
<circle cx="299.86" cy="152.9" r="3.8" stroke-width="1.9"/>
<circle cx="317.14" cy="152.9" r="3.8" stroke-width="1.9"/>
<line x1="325.3" y1="144.3" x2="343.2" y2="161.1" stroke-width="2"/>
<line x1="340.43" y1="158.5" x2="336.87" y2="162.29" stroke-width="2"/>
<line x1="340.4" y1="146.5" x2="362.1" y2="159.6" stroke-width="2"/>
<line x1="358.85" y1="157.64" x2="356.16" y2="162.09" stroke-width="2"/>
<line x1="357.2" y1="148.3" x2="379.7" y2="157.4" stroke-width="2"/>
<line x1="376.18" y1="155.98" x2="374.23" y2="160.8" stroke-width="2"/>
<circle cx="386.29" cy="152.9" r="3.8" stroke-width="1.9"/>
<circle cx="403.57" cy="152.9" r="3.8" stroke-width="1.9"/>
<circle cx="420.86" cy="152.9" r="3.8" stroke-width="1.9"/>
<circle cx="438.14" cy="152.9" r="3.8" stroke-width="1.9"/>
<line x1="447.2" y1="143.5" x2="462.9" y2="162.3" stroke-width="2"/>
<line x1="460.46" y1="159.38" x2="456.47" y2="162.72" stroke-width="2"/>
<line x1="468.7" y1="141.4" x2="476.3" y2="164.1" stroke-width="2"/>
<line x1="475.09" y1="160.5" x2="470.16" y2="162.15" stroke-width="2"/>
<line x1="488.5" y1="140.7" x2="490.9" y2="165" stroke-width="2"/>
<line x1="490.53" y1="161.22" x2="485.35" y2="161.73" stroke-width="2"/>
<line x1="501.8" y1="141.6" x2="511.6" y2="164.1" stroke-width="2"/>
<line x1="510.08" y1="160.62" x2="505.32" y2="162.69" stroke-width="2"/>
<line x1="517.6" y1="142.9" x2="531.2" y2="163.5" stroke-width="2"/>
<line x1="529.11" y1="160.33" x2="524.77" y2="163.19" stroke-width="2"/>
<line x1="543" y1="163.6" x2="540.2" y2="140.9" stroke-width="2"/>
<line x1="540.67" y1="144.67" x2="545.83" y2="144.03" stroke-width="2"/>
<line x1="565.4" y1="163" x2="552.1" y2="142.8" stroke-width="2"/>
<line x1="554.19" y1="145.97" x2="558.53" y2="143.11" stroke-width="2"/>
<line x1="587.3" y1="158.7" x2="564.5" y2="147.4" stroke-width="2"/>
<line x1="567.9" y1="149.09" x2="570.21" y2="144.43" stroke-width="2"/>
<circle cx="593.71" cy="152.9" r="3.8" stroke-width="1.9"/>
<line x1="604.5" y1="163.4" x2="616.2" y2="142.2" stroke-width="2"/>
<line x1="614.36" y1="145.53" x2="618.92" y2="148.04" stroke-width="2"/>
<line x1="618.5" y1="160.8" x2="637.4" y2="145.2" stroke-width="2"/>
<line x1="634.47" y1="147.62" x2="637.78" y2="151.63" stroke-width="2"/>
<circle cx="645.57" cy="152.9" r="3.8" stroke-width="1.9"/>
<circle cx="662.86" cy="152.9" r="3.8" stroke-width="1.9"/>
<circle cx="680.14" cy="152.9" r="3.8" stroke-width="1.9"/>
<circle cx="697.43" cy="152.9" r="3.8" stroke-width="1.9"/>
<circle cx="714.71" cy="152.9" r="3.8" stroke-width="1.9"/>
<circle cx="732" cy="152.9" r="3.8" stroke-width="1.9"/>
<circle cx="749.29" cy="152.9" r="3.8" stroke-width="1.9"/>
<circle cx="766.57" cy="152.9" r="3.8" stroke-width="1.9"/>
<circle cx="783.86" cy="152.9" r="3.8" stroke-width="1.9"/>
<circle cx="801.14" cy="152.9" r="3.8" stroke-width="1.9"/>
<circle cx="818.43" cy="152.9" r="3.8" stroke-width="1.9"/>
<circle cx="835.71" cy="152.9" r="3.8" stroke-width="1.9"/>
<circle cx="853" cy="152.9" r="3.8" stroke-width="1.9"/>
<circle cx="870.29" cy="152.9" r="3.8" stroke-width="1.9"/>
<circle cx="887.57" cy="152.9" r="3.8" stroke-width="1.9"/>
<circle cx="904.86" cy="152.9" r="3.8" stroke-width="1.9"/>
<circle cx="922.14" cy="152.9" r="3.8" stroke-width="1.9"/>
<circle cx="939.43" cy="152.9" r="3.8" stroke-width="1.9"/>
<circle cx="956.71" cy="152.9" r="3.8" stroke-width="1.9"/>
<circle cx="974" cy="152.9" r="3.8" stroke-width="1.9"/>
<circle cx="991.29" cy="152.9" r="3.8" stroke-width="1.9"/>
<circle cx="1008.57" cy="152.9" r="3.8" stroke-width="1.9"/>
<circle cx="1025.86" cy="152.9" r="3.8" stroke-width="1.9"/>
<circle cx="1043.14" cy="152.9" r="3.8" stroke-width="1.9"/>
<circle cx="1060.43" cy="152.9" r="3.8" stroke-width="1.9"/>
<line x1="1087.5" y1="146.7" x2="1066.7" y2="159.2" stroke-width="2"/>
<line x1="1069.96" y1="157.24" x2="1067.28" y2="152.79" stroke-width="2"/>
<line x1="1104.2" y1="145.6" x2="1084.4" y2="159.9" stroke-width="2"/>
<line x1="1087.48" y1="157.68" x2="1084.44" y2="153.46" stroke-width="2"/>
</g>
<text x="123.3" y="365.7" text-anchor="end" font-family="'DejaVu Sans', 'Liberation Sans', sans-serif" font-size="17" fill="#000">0</text>
<text x="123.3" y="327.7" text-anchor="end" font-family="'DejaVu Sans', 'Liberation Sans', sans-serif" font-size="17" fill="#000">1</text>
<text x="123.3" y="290.7" text-anchor="end" font-family="'DejaVu Sans', 'Liberation Sans', sans-serif" font-size="17" fill="#000">2</text>
<text x="123.3" y="253.7" text-anchor="end" font-family="'DejaVu Sans', 'Liberation Sans', sans-serif" font-size="17" fill="#000">3</text>
<text x="123.3" y="215.7" text-anchor="end" font-family="'DejaVu Sans', 'Liberation Sans', sans-serif" font-size="17" fill="#000">4</text>
<text x="123.3" y="178.7" text-anchor="end" font-family="'DejaVu Sans', 'Liberation Sans', sans-serif" font-size="17" fill="#000">5</text>
<text x="1098.3" y="365.6" font-family="'DejaVu Sans', 'Liberation Sans', sans-serif" font-size="17" fill="#000">0</text>
<text x="1098.3" y="327.6" font-family="'DejaVu Sans', 'Liberation Sans', sans-serif" font-size="17" fill="#000">1.5</text>
<text x="1098.3" y="290.6" font-family="'DejaVu Sans', 'Liberation Sans', sans-serif" font-size="17" fill="#000">3.5</text>
<text x="1098.3" y="253.6" font-family="'DejaVu Sans', 'Liberation Sans', sans-serif" font-size="17" fill="#000">6.0</text>
<text x="1098.3" y="215.6" font-family="'DejaVu Sans', 'Liberation Sans', sans-serif" font-size="17" fill="#000">9.0</text>
<text x="1098.3" y="178.6" font-family="'DejaVu Sans', 'Liberation Sans', sans-serif" font-size="17" fill="#000">14</text>
<text x="46" y="366.3" font-family="'DejaVu Sans', 'Liberation Sans', sans-serif" font-size="17.5" fill="#ff0000">-2</text>
<text x="46" y="328.3" font-family="'DejaVu Sans', 'Liberation Sans', sans-serif" font-size="17.5" fill="#ff0000">3</text>
<text x="46" y="291.3" font-family="'DejaVu Sans', 'Liberation Sans', sans-serif" font-size="17.5" fill="#ff0000">7</text>
<text x="46" y="254.3" font-family="'DejaVu Sans', 'Liberation Sans', sans-serif" font-size="17.5" fill="#ff0000">12</text>
<text x="46" y="216.3" font-family="'DejaVu Sans', 'Liberation Sans', sans-serif" font-size="17.5" fill="#ff0000">16</text>
<text x="46" y="179.3" font-family="'DejaVu Sans', 'Liberation Sans', sans-serif" font-size="17.5" fill="#ff0000">21</text>
<text x="160.67" y="377.2" text-anchor="middle" font-family="'DejaVu Sans', 'Liberation Sans', sans-serif" font-size="17" fill="#000">06</text>
<text x="195.24" y="377.2" text-anchor="middle" font-family="'DejaVu Sans', 'Liberation Sans', sans-serif" font-size="17" fill="#000">12</text>
<text x="229.81" y="377.2" text-anchor="middle" font-family="'DejaVu Sans', 'Liberation Sans', sans-serif" font-size="17" fill="#000">18</text>
<text x="298.96" y="377.2" text-anchor="middle" font-family="'DejaVu Sans', 'Liberation Sans', sans-serif" font-size="17" fill="#000">06</text>
<text x="333.53" y="377.2" text-anchor="middle" font-family="'DejaVu Sans', 'Liberation Sans', sans-serif" font-size="17" fill="#000">12</text>
<text x="368.1" y="377.2" text-anchor="middle" font-family="'DejaVu Sans', 'Liberation Sans', sans-serif" font-size="17" fill="#000">18</text>
<text x="264.39" y="377.2" text-anchor="middle" font-family="'DejaVu Sans', 'Liberation Sans', sans-serif" font-size="17" fill="#000">sob</text>
<text x="437.24" y="377.2" text-anchor="middle" font-family="'DejaVu Sans', 'Liberation Sans', sans-serif" font-size="17" fill="#000">06</text>
<text x="471.81" y="377.2" text-anchor="middle" font-family="'DejaVu Sans', 'Liberation Sans', sans-serif" font-size="17" fill="#000">12</text>
<text x="506.39" y="377.2" text-anchor="middle" font-family="'DejaVu Sans', 'Liberation Sans', sans-serif" font-size="17" fill="#000">18</text>
<text x="402.67" y="377.2" text-anchor="middle" font-family="'DejaVu Sans', 'Liberation Sans', sans-serif" font-size="17" fill="#000">ned</text>
<text x="575.53" y="377.2" text-anchor="middle" font-family="'DejaVu Sans', 'Liberation Sans', sans-serif" font-size="17" fill="#000">06</text>
<text x="610.1" y="377.2" text-anchor="middle" font-family="'DejaVu Sans', 'Liberation Sans', sans-serif" font-size="17" fill="#000">12</text>
<text x="644.67" y="377.2" text-anchor="middle" font-family="'DejaVu Sans', 'Liberation Sans', sans-serif" font-size="17" fill="#000">18</text>
<text x="540.96" y="377.2" text-anchor="middle" font-family="'DejaVu Sans', 'Liberation Sans', sans-serif" font-size="17" fill="#000">pon</text>
<text x="713.81" y="377.2" text-anchor="middle" font-family="'DejaVu Sans', 'Liberation Sans', sans-serif" font-size="17" fill="#000">06</text>
<text x="748.39" y="377.2" text-anchor="middle" font-family="'DejaVu Sans', 'Liberation Sans', sans-serif" font-size="17" fill="#000">12</text>
<text x="782.96" y="377.2" text-anchor="middle" font-family="'DejaVu Sans', 'Liberation Sans', sans-serif" font-size="17" fill="#000">18</text>
<text x="679.24" y="377.2" text-anchor="middle" font-family="'DejaVu Sans', 'Liberation Sans', sans-serif" font-size="17" fill="#000">tor</text>
<text x="852.1" y="377.2" text-anchor="middle" font-family="'DejaVu Sans', 'Liberation Sans', sans-serif" font-size="17" fill="#000">06</text>
<text x="886.67" y="377.2" text-anchor="middle" font-family="'DejaVu Sans', 'Liberation Sans', sans-serif" font-size="17" fill="#000">12</text>
<text x="921.24" y="377.2" text-anchor="middle" font-family="'DejaVu Sans', 'Liberation Sans', sans-serif" font-size="17" fill="#000">18</text>
<text x="817.53" y="377.2" text-anchor="middle" font-family="'DejaVu Sans', 'Liberation Sans', sans-serif" font-size="17" fill="#000">sre</text>
<text x="990.39" y="377.2" text-anchor="middle" font-family="'DejaVu Sans', 'Liberation Sans', sans-serif" font-size="17" fill="#000">06</text>
<text x="1024.96" y="377.2" text-anchor="middle" font-family="'DejaVu Sans', 'Liberation Sans', sans-serif" font-size="17" fill="#000">12</text>
<text x="1059.53" y="377.2" text-anchor="middle" font-family="'DejaVu Sans', 'Liberation Sans', sans-serif" font-size="17" fill="#000">18</text>
<text x="955.81" y="377.2" text-anchor="middle" font-family="'DejaVu Sans', 'Liberation Sans', sans-serif" font-size="17" fill="#000">čet</text>
<text transform="translate(34.9,267.35) rotate(-90)" text-anchor="middle" font-family="'Liberation Sans', sans-serif" font-size="21.4" fill="#ff0000">Temperatura (°C)</text>
<text transform="translate(100,263.05) rotate(-90)" text-anchor="middle" font-family="'Liberation Sans', sans-serif" font-size="21.7" fill="#000">Padavine (mm/h)</text>
<text transform="translate(1144.9,254.1) rotate(-90)" text-anchor="middle" font-family="'Liberation Sans', sans-serif" font-size="21.8" fill="#000">Višina oblakov (km)</text>
<rect x="127" y="390.2" width="32.2" height="10.6" fill="#0050ff"/>
<rect x="165" y="386" width="105" height="19.5" fill="#fff"/>
<text x="168.6" y="402.1" font-family="'Liberation Sans', sans-serif" font-size="19.6" fill="#000">Dež</text>
<rect x="278" y="390.3" width="31.7" height="10.6" fill="#14d6c4"/>
<rect x="310.3" y="385.8" width="109.4" height="19.7" fill="#fff"/>
<text x="319" y="402.1" font-family="'Liberation Sans', sans-serif" font-size="19.6" fill="#000">Možnost ploh</text>
<text x="499" y="402.2" font-family="'Liberation Sans', sans-serif" font-size="15.9" fill="#0000ff">© vreme.us &amp; vreme.pro</text>
<rect x="759.5" y="386" width="180.6" height="20" fill="#fff"/>
<text x="759.3" y="401.7" font-family="'Liberation Sans', sans-serif" font-size="19.2" fill="#000">Gostota oblakov (%)</text>
<rect x="949.1" y="385.2" width="29.1" height="13.2" fill="#d3d3d3"/>
<rect x="978.2" y="385.2" width="29.1" height="13.2" fill="#b1b1b1"/>
<rect x="1007.3" y="385.2" width="29.1" height="13.2" fill="#949494"/>
<rect x="1036.4" y="385.2" width="29.1" height="13.2" fill="#777777"/>
<rect x="1065.5" y="385.2" width="29.2" height="13.2" fill="#5a5a5a"/>
<rect x="949.6" y="385.7" width="144.6" height="12.4" fill="none" stroke="#111" stroke-width="1"/>
<text x="949.1" y="414.8" text-anchor="middle" font-family="'DejaVu Sans', 'Liberation Sans', sans-serif" font-size="16.3" fill="#000" transform="translate(949.1,0) scale(0.92,1) translate(-949.1,0)">10</text>
<text x="978.2" y="414.8" text-anchor="middle" font-family="'DejaVu Sans', 'Liberation Sans', sans-serif" font-size="16.3" fill="#000" transform="translate(978.2,0) scale(0.92,1) translate(-978.2,0)">25</text>
<text x="1007.3" y="414.8" text-anchor="middle" font-family="'DejaVu Sans', 'Liberation Sans', sans-serif" font-size="16.3" fill="#000" transform="translate(1007.3,0) scale(0.92,1) translate(-1007.3,0)">50</text>
<text x="1036.4" y="414.8" text-anchor="middle" font-family="'DejaVu Sans', 'Liberation Sans', sans-serif" font-size="16.3" fill="#000" transform="translate(1036.4,0) scale(0.92,1) translate(-1036.4,0)">75</text>
<text x="1065.5" y="414.8" text-anchor="middle" font-family="'DejaVu Sans', 'Liberation Sans', sans-serif" font-size="16.3" fill="#000" transform="translate(1065.5,0) scale(0.92,1) translate(-1065.5,0)">90</text>
<text x="1094.7" y="414.8" text-anchor="middle" font-family="'DejaVu Sans', 'Liberation Sans', sans-serif" font-size="16.3" fill="#000" transform="translate(1094.7,0) scale(0.92,1) translate(-1094.7,0)">100</text>
</svg></body></html>
